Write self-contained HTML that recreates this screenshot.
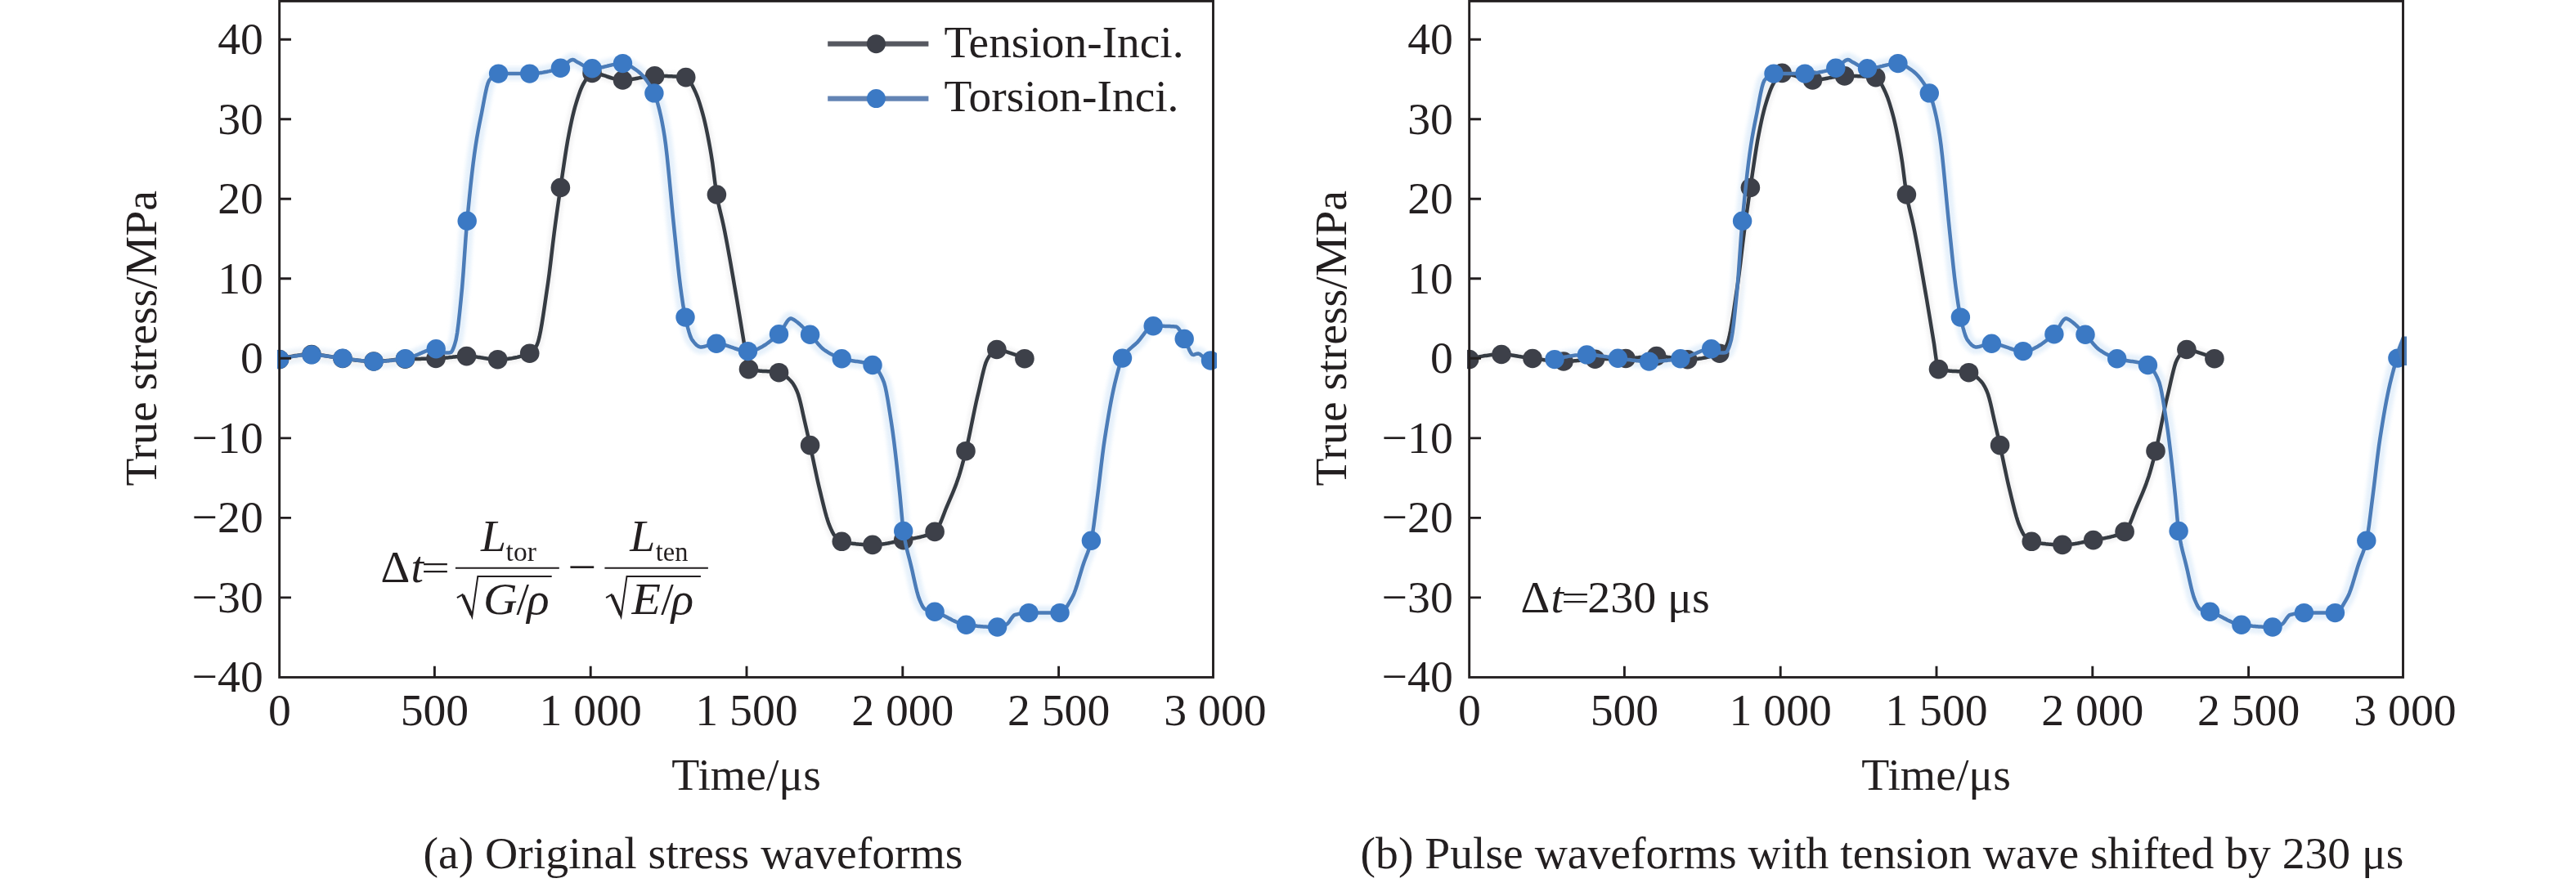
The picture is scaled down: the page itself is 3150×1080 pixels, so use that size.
<!DOCTYPE html>
<html lang="en">
<head>
<meta charset="utf-8">
<title>Stress waveforms</title>
<style>
html,body{margin:0;padding:0;background:#ffffff;}
body{width:3150px;height:1080px;overflow:hidden;}
svg{display:block;}
svg text{font-family:'Liberation Serif', 'Times New Roman', serif;fill:#231f20;}
</style>
</head>
<body>
<svg width="3150" height="1080" viewBox="0 0 3150 1080">
<defs><filter id="blur" x="-5%" y="-5%" width="110%" height="110%"><feGaussianBlur stdDeviation="2.2"/></filter><filter id="soft" x="-5%" y="-5%" width="110%" height="110%"><feGaussianBlur stdDeviation="0.75"/></filter></defs>
<rect width="3150" height="1080" fill="#ffffff"/>
<!-- (a) left chart -->
<clipPath id="clip1"><rect x="339.0" y="0" width="1149.0" height="832"/></clipPath>
<g clip-path="url(#clip1)" fill="none" stroke-linejoin="round" stroke-linecap="round">
<g filter="url(#blur)" opacity="0.9">
<path d="M341.6 439.6 L343.1 439.2 L344.6 438.8 L346.1 438.4 L347.6 438.0 L349.1 437.7 L350.6 437.4 L352.1 437.0 L353.6 436.7 L355.1 436.4 L356.6 436.2 L358.1 435.9 L359.6 435.6 L361.1 435.4 L362.6 435.2 L364.1 435.0 L365.6 434.8 L367.1 434.6 L368.6 434.5 L370.1 434.4 L371.6 434.2 L373.1 434.1 L374.6 434.1 L376.1 434.0 L377.6 433.9 L379.1 433.9 L380.6 433.9 L382.1 433.9 L383.6 433.9 L385.1 434.0 L386.6 434.1 L388.1 434.2 L389.6 434.3 L391.1 434.5 L392.6 434.6 L394.1 434.8 L395.6 435.0 L397.1 435.2 L398.6 435.4 L400.1 435.6 L401.6 435.8 L403.1 436.1 L404.6 436.3 L406.1 436.5 L407.6 436.8 L409.1 437.0 L410.6 437.2 L412.1 437.4 L413.6 437.6 L415.1 437.8 L416.6 438.0 L418.1 438.2 L419.6 438.4 L421.1 438.5 L422.6 438.7 L424.1 438.9 L425.6 439.1 L427.1 439.3 L428.6 439.5 L430.1 439.7 L431.6 439.9 L433.1 440.1 L434.6 440.3 L436.1 440.5 L437.6 440.7 L439.1 440.8 L440.6 441.0 L442.1 441.2 L443.6 441.3 L445.1 441.5 L446.6 441.6 L448.1 441.7 L449.6 441.8 L451.1 441.9 L452.6 442.0 L454.1 442.1 L455.6 442.1 L457.1 442.1 L458.6 442.1 L460.1 442.1 L461.6 442.0 L463.1 442.0 L464.6 441.9 L466.1 441.9 L467.6 441.8 L469.1 441.7 L470.6 441.6 L472.1 441.4 L473.6 441.3 L475.1 441.2 L476.6 441.0 L478.1 440.9 L479.6 440.7 L481.1 440.6 L482.6 440.4 L484.1 440.2 L485.6 440.0 L487.1 439.8 L488.6 439.6 L490.1 439.4 L491.6 439.2 L493.1 439.0 L494.6 438.8 L496.1 438.6 L497.6 438.3 L499.1 438.0 L500.6 437.6 L502.1 437.1 L503.6 436.6 L505.1 436.0 L506.6 435.4 L508.1 434.8 L509.6 434.2 L511.1 433.5 L512.6 432.9 L514.1 432.2 L515.6 431.6 L517.1 430.9 L518.6 430.3 L520.1 429.7 L521.6 429.1 L523.1 428.6 L524.6 428.2 L526.1 427.8 L527.6 427.4 L529.1 427.1 L530.6 426.9 L532.1 426.8 L533.6 426.8 L535.1 427.3 L536.6 428.1 L538.1 429.1 L539.6 430.2 L541.1 431.0 L542.6 431.5 L544.1 431.5 L545.6 431.5 L547.1 431.4 L548.6 431.4 L550.1 431.3 L551.6 430.9 L553.1 428.9 L554.6 425.4 L556.1 421.0 L557.6 415.7 L559.1 407.1 L560.6 395.6 L562.1 382.0 L563.6 367.2 L565.1 351.8 L566.6 332.7 L568.1 311.2 L569.6 289.9 L571.1 271.3 L572.6 255.5 L574.1 240.4 L575.6 226.1 L577.1 212.6 L578.6 200.1 L580.1 188.6 L581.6 178.2 L583.1 168.8 L584.6 160.3 L586.1 152.5 L587.6 145.0 L589.1 137.6 L590.6 129.6 L592.1 121.6 L593.6 113.9 L595.1 107.2 L596.6 101.9 L598.1 98.4 L599.6 96.6 L601.1 94.9 L602.6 93.5 L604.1 92.3 L605.6 91.3 L607.1 90.6 L608.6 90.2 L610.1 90.1 L611.6 90.1 L613.1 90.1 L614.6 90.1 L616.1 90.1 L617.6 90.1 L619.1 90.1 L620.6 90.1 L622.1 90.1 L623.6 90.1 L625.1 90.1 L626.6 90.1 L628.1 90.1 L629.6 90.1 L631.1 90.1 L632.6 90.1 L634.1 90.1 L635.6 90.1 L637.1 90.1 L638.6 90.1 L640.1 90.1 L641.6 90.1 L643.1 90.1 L644.6 90.1 L646.1 90.1 L647.6 90.1 L649.1 90.1 L650.6 90.0 L652.1 90.0 L653.6 89.9 L655.1 89.8 L656.6 89.6 L658.1 89.5 L659.6 89.3 L661.1 89.1 L662.6 88.9 L664.1 88.6 L665.6 88.3 L667.1 88.1 L668.6 87.8 L670.1 87.4 L671.6 87.1 L673.1 86.7 L674.6 86.4 L676.1 86.0 L677.6 85.6 L679.1 85.2 L680.6 84.7 L682.1 84.3 L683.6 83.9 L685.1 83.4 L686.6 82.8 L688.1 81.9 L689.6 80.7 L691.1 79.3 L692.6 77.9 L694.1 76.4 L695.6 75.2 L697.1 74.1 L698.6 73.4 L700.1 73.0 L701.6 73.3 L703.1 74.1 L704.6 75.1 L706.1 76.0 L707.6 76.8 L709.1 77.6 L710.6 78.5 L712.1 79.4 L713.6 80.2 L715.1 81.0 L716.6 81.8 L718.1 82.4 L719.6 83.0 L721.1 83.4 L722.6 83.7 L724.1 83.8 L725.6 83.8 L727.1 83.7 L728.6 83.6 L730.1 83.4 L731.6 83.2 L733.1 82.9 L734.6 82.6 L736.1 82.3 L737.6 82.0 L739.1 81.6 L740.6 81.2 L742.1 80.9 L743.6 80.5 L745.1 80.1 L746.6 79.8 L748.1 79.4 L749.6 79.1 L751.1 78.8 L752.6 78.5 L754.1 78.2 L755.6 78.0 L757.1 77.8 L758.6 77.7 L760.1 77.6 L761.6 77.6 L763.1 77.7 L764.6 78.0 L766.1 78.5 L767.6 79.1 L769.1 79.8 L770.6 80.6 L772.1 81.6 L773.6 82.6 L775.1 83.6 L776.6 84.7 L778.1 85.7 L779.6 86.8 L781.1 88.0 L782.6 89.3 L784.1 90.7 L785.6 92.3 L787.1 93.9 L788.6 95.7 L790.1 97.7 L791.6 99.8 L793.1 102.0 L794.6 104.3 L796.1 106.8 L797.6 109.5 L799.1 112.3 L800.6 115.4 L802.1 119.4 L803.6 124.2 L805.1 129.6 L806.6 135.4 L808.1 141.9 L809.6 149.2 L811.1 157.4 L812.6 166.5 L814.1 177.4 L815.6 190.3 L817.1 204.7 L818.6 220.1 L820.1 236.0 L821.6 251.9 L823.1 267.3 L824.6 281.9 L826.1 296.3 L827.6 311.0 L829.1 325.3 L830.6 338.8 L832.1 350.7 L833.6 361.7 L835.1 372.0 L836.6 381.1 L838.1 388.5 L839.6 395.0 L841.1 401.0 L842.6 406.4 L844.1 411.0 L845.6 414.4 L847.1 416.7 L848.6 418.6 L850.1 420.4 L851.6 421.9 L853.1 423.1 L854.6 423.9 L856.1 424.4 L857.6 424.4 L859.1 424.2 L860.6 424.0 L862.1 423.6 L863.6 423.2 L865.1 422.7 L866.6 422.3 L868.1 421.8 L869.6 421.4 L871.1 421.0 L872.6 420.6 L874.1 420.4 L875.6 420.3 L877.1 420.3 L878.6 420.4 L880.1 420.6 L881.6 420.8 L883.1 421.1 L884.6 421.5 L886.1 421.9 L887.6 422.3 L889.1 422.8 L890.6 423.3 L892.1 423.8 L893.6 424.4 L895.1 424.9 L896.6 425.4 L898.1 426.0 L899.6 426.5 L901.1 427.0 L902.6 427.5 L904.1 427.9 L905.6 428.3 L907.1 428.7 L908.6 429.0 L910.1 429.3 L911.6 429.4 L913.1 429.6 L914.6 429.6 L916.1 429.5 L917.6 429.4 L919.1 429.2 L920.6 428.8 L922.1 428.4 L923.6 428.0 L925.1 427.4 L926.6 426.8 L928.1 426.1 L929.6 425.3 L931.1 424.5 L932.6 423.7 L934.1 422.7 L935.6 421.8 L937.1 420.8 L938.6 419.7 L940.1 418.6 L941.6 417.5 L943.1 416.4 L944.6 415.2 L946.1 414.0 L947.6 412.8 L949.1 411.6 L950.6 410.4 L952.1 409.1 L953.6 407.7 L955.1 405.7 L956.6 403.3 L958.1 400.7 L959.6 398.0 L961.1 395.4 L962.6 393.1 L964.1 391.2 L965.6 390.0 L967.1 389.5 L968.6 389.9 L970.1 390.7 L971.6 391.7 L973.1 392.7 L974.6 393.8 L976.1 395.0 L977.6 396.3 L979.1 397.6 L980.6 399.0 L982.1 400.5 L983.6 402.0 L985.1 403.6 L986.6 405.1 L988.1 406.7 L989.6 408.2 L991.1 409.7 L992.6 411.3 L994.1 413.0 L995.6 414.8 L997.1 416.6 L998.6 418.4 L1000.1 420.2 L1001.6 421.9 L1003.1 423.6 L1004.6 425.1 L1006.1 426.5 L1007.6 427.7 L1009.1 428.8 L1010.6 429.7 L1012.1 430.7 L1013.6 431.6 L1015.1 432.5 L1016.6 433.3 L1018.1 434.1 L1019.6 434.9 L1021.1 435.6 L1022.6 436.2 L1024.1 436.9 L1025.6 437.4 L1027.1 438.0 L1028.6 438.5 L1030.1 438.9 L1031.6 439.3 L1033.1 439.7 L1034.6 440.0 L1036.1 440.3 L1037.6 440.6 L1039.1 440.9 L1040.6 441.1 L1042.1 441.3 L1043.6 441.5 L1045.1 441.7 L1046.6 441.9 L1048.1 442.1 L1049.6 442.3 L1051.1 442.5 L1052.6 442.7 L1054.1 443.0 L1055.6 443.2 L1057.1 443.5 L1058.6 443.9 L1060.1 444.2 L1061.6 444.6 L1063.1 445.1 L1064.6 445.6 L1066.1 446.1 L1067.6 446.8 L1069.1 447.8 L1070.6 449.1 L1072.1 450.8 L1073.6 452.9 L1075.1 455.3 L1076.6 458.0 L1078.1 461.0 L1079.6 464.3 L1081.1 468.1 L1082.6 473.6 L1084.1 480.8 L1085.6 489.2 L1087.1 498.4 L1088.6 508.0 L1090.1 517.7 L1091.6 527.8 L1093.1 539.2 L1094.6 551.5 L1096.1 564.6 L1097.6 578.3 L1099.1 592.5 L1100.6 607.0 L1102.1 623.3 L1103.6 640.0 L1105.1 652.0 L1106.6 660.7 L1108.1 668.0 L1109.6 674.4 L1111.1 680.3 L1112.6 686.0 L1114.1 692.1 L1115.6 698.6 L1117.1 705.4 L1118.6 712.2 L1120.1 718.7 L1121.6 724.7 L1123.1 729.9 L1124.6 733.9 L1126.1 737.4 L1127.6 740.6 L1129.1 743.1 L1130.6 744.8 L1132.1 745.5 L1133.6 746.1 L1135.1 746.5 L1136.6 746.8 L1138.1 747.1 L1139.6 747.4 L1141.1 747.8 L1142.6 748.1 L1144.1 748.6 L1145.6 749.2 L1147.1 749.8 L1148.6 750.4 L1150.1 751.1 L1151.6 751.8 L1153.1 752.5 L1154.6 753.2 L1156.1 754.0 L1157.6 754.8 L1159.1 755.6 L1160.6 756.4 L1162.1 757.1 L1163.6 757.9 L1165.1 758.7 L1166.6 759.4 L1168.1 760.1 L1169.6 760.8 L1171.1 761.4 L1172.6 762.0 L1174.1 762.5 L1175.6 763.0 L1177.1 763.4 L1178.6 763.8 L1180.1 764.1 L1181.6 764.3 L1183.1 764.5 L1184.6 764.7 L1186.1 764.8 L1187.6 765.0 L1189.1 765.2 L1190.6 765.3 L1192.1 765.5 L1193.6 765.6 L1195.1 765.8 L1196.6 765.9 L1198.1 766.0 L1199.6 766.2 L1201.1 766.3 L1202.6 766.4 L1204.1 766.5 L1205.6 766.6 L1207.1 766.7 L1208.6 766.7 L1210.1 766.8 L1211.6 766.9 L1213.1 766.9 L1214.6 766.9 L1216.1 767.0 L1217.6 767.0 L1219.1 767.0 L1220.6 767.0 L1222.1 766.8 L1223.6 766.5 L1225.1 766.0 L1226.6 765.5 L1228.1 764.9 L1229.6 764.2 L1231.1 763.4 L1232.6 762.2 L1234.1 760.3 L1235.6 758.1 L1237.1 755.8 L1238.6 753.8 L1240.1 752.4 L1241.6 751.8 L1243.1 751.5 L1244.6 751.1 L1246.1 750.8 L1247.6 750.5 L1249.1 750.3 L1250.6 750.1 L1252.1 749.9 L1253.6 749.8 L1255.1 749.7 L1256.6 749.6 L1258.1 749.6 L1259.6 749.6 L1261.1 749.6 L1262.6 749.6 L1264.1 749.6 L1265.6 749.6 L1267.1 749.6 L1268.6 749.6 L1270.1 749.6 L1271.6 749.6 L1273.1 749.6 L1274.6 749.6 L1276.1 749.6 L1277.6 749.6 L1279.1 749.6 L1280.6 749.6 L1282.1 749.6 L1283.6 749.6 L1285.1 749.6 L1286.6 749.6 L1288.1 749.6 L1289.6 749.6 L1291.1 749.6 L1292.6 749.6 L1294.1 749.6 L1295.6 749.6 L1297.1 749.4 L1298.6 748.8 L1300.1 747.6 L1301.6 746.1 L1303.1 744.2 L1304.6 742.0 L1306.1 739.5 L1307.6 736.9 L1309.1 734.3 L1310.6 731.6 L1312.1 728.8 L1313.6 725.3 L1315.1 721.3 L1316.6 716.8 L1318.1 711.9 L1319.6 706.9 L1321.1 701.8 L1322.6 696.8 L1324.1 691.9 L1325.6 687.5 L1327.1 683.5 L1328.6 679.6 L1330.1 675.7 L1331.6 671.4 L1333.1 666.4 L1334.6 660.4 L1336.1 652.2 L1337.6 641.9 L1339.1 630.2 L1340.6 618.1 L1342.1 606.5 L1343.6 594.5 L1345.1 581.9 L1346.6 569.2 L1348.1 556.9 L1349.6 545.5 L1351.1 535.4 L1352.6 525.8 L1354.1 516.6 L1355.6 507.7 L1357.1 499.1 L1358.6 491.0 L1360.1 483.4 L1361.6 476.2 L1363.1 469.6 L1364.6 463.5 L1366.1 457.5 L1367.6 451.9 L1369.1 446.7 L1370.6 442.3 L1372.1 438.8 L1373.6 436.3 L1375.1 434.1 L1376.6 432.1 L1378.1 430.3 L1379.6 428.7 L1381.1 427.2 L1382.6 425.9 L1384.1 424.6 L1385.6 423.3 L1387.1 422.0 L1388.6 420.7 L1390.1 419.3 L1391.6 417.8 L1393.1 416.1 L1394.6 414.2 L1396.1 412.2 L1397.6 410.2 L1399.1 408.1 L1400.6 406.2 L1402.1 404.3 L1403.6 402.6 L1405.1 401.1 L1406.6 400.0 L1408.1 399.2 L1409.6 398.7 L1411.1 398.7 L1412.6 398.7 L1414.1 398.7 L1415.6 398.7 L1417.1 398.7 L1418.6 398.8 L1420.1 398.8 L1421.6 398.8 L1423.1 398.8 L1424.6 398.9 L1426.1 398.9 L1427.6 399.0 L1429.1 399.0 L1430.6 399.1 L1432.1 399.2 L1433.6 399.2 L1435.1 399.3 L1436.6 399.4 L1438.1 399.5 L1439.6 400.2 L1441.1 401.8 L1442.6 404.1 L1444.1 406.8 L1445.6 409.7 L1447.1 412.5 L1448.6 415.1 L1450.1 418.1 L1451.6 421.6 L1453.1 425.2 L1454.6 428.6 L1456.1 431.4 L1457.6 433.4 L1459.1 434.0 L1460.6 433.7 L1462.1 433.2 L1463.6 432.7 L1465.1 432.5 L1466.6 432.9 L1468.1 433.9 L1469.6 435.2 L1471.1 436.4 L1472.6 437.3 L1474.1 438.1 L1475.6 438.9 L1477.1 439.6 L1478.6 440.2 L1480.1 440.8 L1480.5 441.0" stroke="#e3effa" stroke-width="17"/>
<path d="M341.6 439.6 L343.1 439.2 L344.6 438.7 L346.1 438.3 L347.6 437.9 L349.1 437.5 L350.6 437.2 L352.1 436.8 L353.6 436.5 L355.1 436.2 L356.6 435.9 L358.1 435.6 L359.6 435.3 L361.1 435.1 L362.6 434.9 L364.1 434.7 L365.6 434.5 L367.1 434.3 L368.6 434.1 L370.1 434.0 L371.6 433.9 L373.1 433.8 L374.6 433.7 L376.1 433.6 L377.6 433.5 L379.1 433.5 L380.6 433.5 L382.1 433.5 L383.6 433.5 L385.1 433.6 L386.6 433.7 L388.1 433.8 L389.6 434.0 L391.1 434.2 L392.6 434.3 L394.1 434.6 L395.6 434.8 L397.1 435.0 L398.6 435.2 L400.1 435.5 L401.6 435.8 L403.1 436.0 L404.6 436.3 L406.1 436.6 L407.6 436.8 L409.1 437.1 L410.6 437.3 L412.1 437.6 L413.6 437.8 L415.1 438.0 L416.6 438.2 L418.1 438.4 L419.6 438.6 L421.1 438.7 L422.6 438.9 L424.1 439.1 L425.6 439.3 L427.1 439.5 L428.6 439.6 L430.1 439.8 L431.6 440.0 L433.1 440.2 L434.6 440.4 L436.1 440.5 L437.6 440.7 L439.1 440.9 L440.6 441.0 L442.1 441.2 L443.6 441.3 L445.1 441.5 L446.6 441.6 L448.1 441.7 L449.6 441.8 L451.1 441.9 L452.6 441.9 L454.1 442.0 L455.6 442.0 L457.1 442.0 L458.6 442.0 L460.1 442.0 L461.6 441.9 L463.1 441.8 L464.6 441.8 L466.1 441.7 L467.6 441.5 L469.1 441.4 L470.6 441.3 L472.1 441.2 L473.6 441.0 L475.1 440.9 L476.6 440.7 L478.1 440.6 L479.6 440.4 L481.1 440.2 L482.6 440.1 L484.1 440.0 L485.6 439.8 L487.1 439.7 L488.6 439.6 L490.1 439.5 L491.6 439.4 L493.1 439.3 L494.6 439.2 L496.1 439.2 L497.6 439.1 L499.1 439.1 L500.6 439.1 L502.1 439.0 L503.6 439.0 L505.1 439.0 L506.6 439.0 L508.1 438.9 L509.6 438.9 L511.1 438.9 L512.6 438.9 L514.1 438.9 L515.6 438.8 L517.1 438.8 L518.6 438.8 L520.1 438.8 L521.6 438.7 L523.1 438.7 L524.6 438.7 L526.1 438.7 L527.6 438.6 L529.1 438.6 L530.6 438.6 L532.1 438.5 L533.6 438.5 L535.1 438.4 L536.6 438.3 L538.1 438.2 L539.6 438.1 L541.1 438.0 L542.6 437.9 L544.1 437.7 L545.6 437.6 L547.1 437.4 L548.6 437.3 L550.1 437.1 L551.6 436.9 L553.1 436.8 L554.6 436.6 L556.1 436.5 L557.6 436.3 L559.1 436.2 L560.6 436.0 L562.1 435.9 L563.6 435.8 L565.1 435.7 L566.6 435.7 L568.1 435.6 L569.6 435.6 L571.1 435.6 L572.6 435.6 L574.1 435.7 L575.6 435.8 L577.1 435.9 L578.6 436.1 L580.1 436.2 L581.6 436.4 L583.1 436.6 L584.6 436.9 L586.1 437.1 L587.6 437.3 L589.1 437.6 L590.6 437.8 L592.1 438.1 L593.6 438.3 L595.1 438.5 L596.6 438.7 L598.1 438.9 L599.6 439.1 L601.1 439.3 L602.6 439.4 L604.1 439.5 L605.6 439.6 L607.1 439.7 L608.6 439.7 L610.1 439.7 L611.6 439.7 L613.1 439.6 L614.6 439.5 L616.1 439.4 L617.6 439.3 L619.1 439.2 L620.6 439.0 L622.1 438.8 L623.6 438.6 L625.1 438.4 L626.6 438.1 L628.1 437.8 L629.6 437.5 L631.1 437.2 L632.6 436.9 L634.1 436.5 L635.6 436.1 L637.1 435.7 L638.6 435.3 L640.1 434.8 L641.6 434.4 L643.1 433.9 L644.6 433.3 L646.1 432.8 L647.6 432.2 L649.1 431.5 L650.6 430.3 L652.1 428.7 L653.6 426.8 L655.1 424.6 L656.6 421.9 L658.1 417.8 L659.6 411.9 L661.1 404.5 L662.6 396.0 L664.1 386.6 L665.6 376.6 L667.1 366.4 L668.6 356.1 L670.1 346.0 L671.6 335.0 L673.1 322.9 L674.6 310.3 L676.1 297.6 L677.6 285.4 L679.1 274.0 L680.6 263.0 L682.1 252.3 L683.6 241.8 L685.1 231.5 L686.6 221.3 L688.1 211.0 L689.6 200.8 L691.1 190.8 L692.6 181.3 L694.1 172.4 L695.6 164.3 L697.1 156.8 L698.6 149.6 L700.1 142.8 L701.6 136.6 L703.1 130.9 L704.6 125.9 L706.1 121.0 L707.6 116.5 L709.1 112.2 L710.6 108.4 L712.1 105.0 L713.6 102.1 L715.1 99.6 L716.6 97.1 L718.1 94.7 L719.6 92.6 L721.1 90.9 L722.6 89.8 L724.1 89.4 L725.6 89.4 L727.1 89.6 L728.6 89.7 L730.1 90.0 L731.6 90.3 L733.1 90.7 L734.6 91.1 L736.1 91.5 L737.6 92.0 L739.1 92.4 L740.6 92.9 L742.1 93.5 L743.6 94.0 L745.1 94.5 L746.6 95.0 L748.1 95.5 L749.6 95.9 L751.1 96.4 L752.6 96.8 L754.1 97.1 L755.6 97.4 L757.1 97.7 L758.6 97.9 L760.1 98.0 L761.6 98.0 L763.1 98.0 L764.6 97.9 L766.1 97.8 L767.6 97.7 L769.1 97.5 L770.6 97.3 L772.1 97.1 L773.6 96.8 L775.1 96.6 L776.6 96.3 L778.1 96.0 L779.6 95.7 L781.1 95.4 L782.6 95.1 L784.1 94.9 L785.6 94.6 L787.1 94.3 L788.6 94.0 L790.1 93.8 L791.6 93.6 L793.1 93.4 L794.6 93.2 L796.1 93.1 L797.6 93.0 L799.1 92.9 L800.6 92.9 L802.1 92.9 L803.6 92.9 L805.1 92.9 L806.6 92.9 L808.1 92.9 L809.6 93.0 L811.1 93.0 L812.6 93.0 L814.1 93.1 L815.6 93.1 L817.1 93.2 L818.6 93.2 L820.1 93.3 L821.6 93.3 L823.1 93.4 L824.6 93.5 L826.1 93.6 L827.6 93.7 L829.1 93.8 L830.6 93.9 L832.1 94.0 L833.6 94.1 L835.1 94.2 L836.6 94.4 L838.1 94.5 L839.6 94.9 L841.1 95.9 L842.6 97.7 L844.1 100.0 L845.6 102.8 L847.1 105.7 L848.6 108.8 L850.1 111.9 L851.6 115.3 L853.1 119.1 L854.6 123.4 L856.1 128.1 L857.6 133.1 L859.1 138.4 L860.6 144.0 L862.1 150.2 L863.6 156.9 L865.1 164.2 L866.6 172.0 L868.1 180.2 L869.6 188.9 L871.1 198.3 L872.6 209.7 L874.1 221.8 L875.6 233.0 L877.1 241.9 L878.6 249.4 L880.1 256.1 L881.6 262.3 L883.1 268.6 L884.6 275.2 L886.1 282.5 L887.6 290.2 L889.1 298.2 L890.6 306.4 L892.1 314.7 L893.6 323.2 L895.1 331.8 L896.6 340.5 L898.1 349.3 L899.6 358.0 L901.1 366.7 L902.6 375.6 L904.1 384.6 L905.6 393.7 L907.1 402.8 L908.6 411.8 L910.1 421.1 L911.6 432.2 L913.1 442.8 L914.6 450.0 L916.1 451.8 L917.6 452.1 L919.1 452.5 L920.6 452.8 L922.1 453.0 L923.6 453.2 L925.1 453.4 L926.6 453.5 L928.1 453.6 L929.6 453.7 L931.1 453.8 L932.6 453.9 L934.1 454.0 L935.6 454.0 L937.1 454.1 L938.6 454.2 L940.1 454.2 L941.6 454.3 L943.1 454.4 L944.6 454.5 L946.1 454.7 L947.6 454.9 L949.1 455.1 L950.6 455.3 L952.1 455.6 L953.6 456.0 L955.1 456.5 L956.6 457.3 L958.1 458.1 L959.6 459.2 L961.1 460.3 L962.6 461.6 L964.1 463.0 L965.6 464.5 L967.1 466.0 L968.6 467.7 L970.1 469.8 L971.6 472.3 L973.1 475.2 L974.6 478.5 L976.1 482.5 L977.6 487.6 L979.1 493.5 L980.6 500.0 L982.1 506.9 L983.6 513.7 L985.1 520.3 L986.6 526.8 L988.1 533.4 L989.6 540.1 L991.1 546.9 L992.6 553.8 L994.1 561.0 L995.6 568.2 L997.1 575.3 L998.6 582.4 L1000.1 589.2 L1001.6 595.7 L1003.1 601.9 L1004.6 608.2 L1006.1 614.4 L1007.6 620.4 L1009.1 626.2 L1010.6 631.6 L1012.1 636.5 L1013.6 640.9 L1015.1 644.6 L1016.6 648.1 L1018.1 651.2 L1019.6 653.8 L1021.1 655.7 L1022.6 657.4 L1024.1 659.0 L1025.6 660.3 L1027.1 661.4 L1028.6 662.1 L1030.1 662.5 L1031.6 662.8 L1033.1 663.1 L1034.6 663.4 L1036.1 663.7 L1037.6 664.0 L1039.1 664.2 L1040.6 664.5 L1042.1 664.7 L1043.6 664.9 L1045.1 665.1 L1046.6 665.3 L1048.1 665.4 L1049.6 665.6 L1051.1 665.7 L1052.6 665.8 L1054.1 666.0 L1055.6 666.1 L1057.1 666.1 L1058.6 666.2 L1060.1 666.3 L1061.6 666.3 L1063.1 666.4 L1064.6 666.4 L1066.1 666.4 L1067.6 666.4 L1069.1 666.4 L1070.6 666.3 L1072.1 666.2 L1073.6 666.1 L1075.1 666.0 L1076.6 665.8 L1078.1 665.6 L1079.6 665.4 L1081.1 665.2 L1082.6 665.0 L1084.1 664.7 L1085.6 664.5 L1087.1 664.2 L1088.6 663.9 L1090.1 663.6 L1091.6 663.3 L1093.1 663.0 L1094.6 662.7 L1096.1 662.4 L1097.6 662.1 L1099.1 661.7 L1100.6 661.4 L1102.1 661.1 L1103.6 660.8 L1105.1 660.5 L1106.6 660.2 L1108.1 660.0 L1109.6 659.7 L1111.1 659.5 L1112.6 659.2 L1114.1 658.9 L1115.6 658.7 L1117.1 658.4 L1118.6 658.2 L1120.1 657.9 L1121.6 657.6 L1123.1 657.3 L1124.6 657.0 L1126.1 656.6 L1127.6 656.2 L1129.1 655.8 L1130.6 655.4 L1132.1 655.0 L1133.6 654.5 L1135.1 653.9 L1136.6 653.4 L1138.1 652.8 L1139.6 652.1 L1141.1 651.4 L1142.6 650.7 L1144.1 649.7 L1145.6 648.0 L1147.1 645.6 L1148.6 642.6 L1150.1 639.2 L1151.6 635.5 L1153.1 631.7 L1154.6 627.7 L1156.1 623.8 L1157.6 620.1 L1159.1 616.6 L1160.6 613.2 L1162.1 609.7 L1163.6 606.2 L1165.1 602.6 L1166.6 598.9 L1168.1 595.1 L1169.6 591.1 L1171.1 586.8 L1172.6 582.4 L1174.1 577.5 L1175.6 572.4 L1177.1 566.9 L1178.6 561.2 L1180.1 555.3 L1181.6 549.2 L1183.1 542.8 L1184.6 535.9 L1186.1 528.7 L1187.6 521.4 L1189.1 514.0 L1190.6 506.6 L1192.1 499.4 L1193.6 492.4 L1195.1 485.8 L1196.6 479.5 L1198.1 473.0 L1199.6 466.3 L1201.1 459.8 L1202.6 453.6 L1204.1 448.0 L1205.6 443.3 L1207.1 439.8 L1208.6 437.3 L1210.1 435.1 L1211.6 433.0 L1213.1 431.1 L1214.6 429.6 L1216.1 428.4 L1217.6 427.7 L1219.1 427.5 L1220.6 427.6 L1222.1 427.8 L1223.6 428.0 L1225.1 428.4 L1226.6 428.8 L1228.1 429.3 L1229.6 429.8 L1231.1 430.3 L1232.6 430.8 L1234.1 431.4 L1235.6 431.9 L1237.1 432.4 L1238.6 432.9 L1240.1 433.4 L1241.6 433.9 L1243.1 434.5 L1244.6 435.1 L1246.1 435.7 L1247.6 436.3 L1249.1 437.0 L1250.6 437.7 L1252.1 438.3 L1252.9 438.7" stroke="#f1f1f2" stroke-width="12"/>
</g>
<g filter="url(#soft)">
<path d="M341.6 439.6 L343.1 439.2 L344.6 438.7 L346.1 438.3 L347.6 437.9 L349.1 437.5 L350.6 437.2 L352.1 436.8 L353.6 436.5 L355.1 436.2 L356.6 435.9 L358.1 435.6 L359.6 435.3 L361.1 435.1 L362.6 434.9 L364.1 434.7 L365.6 434.5 L367.1 434.3 L368.6 434.1 L370.1 434.0 L371.6 433.9 L373.1 433.8 L374.6 433.7 L376.1 433.6 L377.6 433.5 L379.1 433.5 L380.6 433.5 L382.1 433.5 L383.6 433.5 L385.1 433.6 L386.6 433.7 L388.1 433.8 L389.6 434.0 L391.1 434.2 L392.6 434.3 L394.1 434.6 L395.6 434.8 L397.1 435.0 L398.6 435.2 L400.1 435.5 L401.6 435.8 L403.1 436.0 L404.6 436.3 L406.1 436.6 L407.6 436.8 L409.1 437.1 L410.6 437.3 L412.1 437.6 L413.6 437.8 L415.1 438.0 L416.6 438.2 L418.1 438.4 L419.6 438.6 L421.1 438.7 L422.6 438.9 L424.1 439.1 L425.6 439.3 L427.1 439.5 L428.6 439.6 L430.1 439.8 L431.6 440.0 L433.1 440.2 L434.6 440.4 L436.1 440.5 L437.6 440.7 L439.1 440.9 L440.6 441.0 L442.1 441.2 L443.6 441.3 L445.1 441.5 L446.6 441.6 L448.1 441.7 L449.6 441.8 L451.1 441.9 L452.6 441.9 L454.1 442.0 L455.6 442.0 L457.1 442.0 L458.6 442.0 L460.1 442.0 L461.6 441.9 L463.1 441.8 L464.6 441.8 L466.1 441.7 L467.6 441.5 L469.1 441.4 L470.6 441.3 L472.1 441.2 L473.6 441.0 L475.1 440.9 L476.6 440.7 L478.1 440.6 L479.6 440.4 L481.1 440.2 L482.6 440.1 L484.1 440.0 L485.6 439.8 L487.1 439.7 L488.6 439.6 L490.1 439.5 L491.6 439.4 L493.1 439.3 L494.6 439.2 L496.1 439.2 L497.6 439.1 L499.1 439.1 L500.6 439.1 L502.1 439.0 L503.6 439.0 L505.1 439.0 L506.6 439.0 L508.1 438.9 L509.6 438.9 L511.1 438.9 L512.6 438.9 L514.1 438.9 L515.6 438.8 L517.1 438.8 L518.6 438.8 L520.1 438.8 L521.6 438.7 L523.1 438.7 L524.6 438.7 L526.1 438.7 L527.6 438.6 L529.1 438.6 L530.6 438.6 L532.1 438.5 L533.6 438.5 L535.1 438.4 L536.6 438.3 L538.1 438.2 L539.6 438.1 L541.1 438.0 L542.6 437.9 L544.1 437.7 L545.6 437.6 L547.1 437.4 L548.6 437.3 L550.1 437.1 L551.6 436.9 L553.1 436.8 L554.6 436.6 L556.1 436.5 L557.6 436.3 L559.1 436.2 L560.6 436.0 L562.1 435.9 L563.6 435.8 L565.1 435.7 L566.6 435.7 L568.1 435.6 L569.6 435.6 L571.1 435.6 L572.6 435.6 L574.1 435.7 L575.6 435.8 L577.1 435.9 L578.6 436.1 L580.1 436.2 L581.6 436.4 L583.1 436.6 L584.6 436.9 L586.1 437.1 L587.6 437.3 L589.1 437.6 L590.6 437.8 L592.1 438.1 L593.6 438.3 L595.1 438.5 L596.6 438.7 L598.1 438.9 L599.6 439.1 L601.1 439.3 L602.6 439.4 L604.1 439.5 L605.6 439.6 L607.1 439.7 L608.6 439.7 L610.1 439.7 L611.6 439.7 L613.1 439.6 L614.6 439.5 L616.1 439.4 L617.6 439.3 L619.1 439.2 L620.6 439.0 L622.1 438.8 L623.6 438.6 L625.1 438.4 L626.6 438.1 L628.1 437.8 L629.6 437.5 L631.1 437.2 L632.6 436.9 L634.1 436.5 L635.6 436.1 L637.1 435.7 L638.6 435.3 L640.1 434.8 L641.6 434.4 L643.1 433.9 L644.6 433.3 L646.1 432.8 L647.6 432.2 L649.1 431.5 L650.6 430.3 L652.1 428.7 L653.6 426.8 L655.1 424.6 L656.6 421.9 L658.1 417.8 L659.6 411.9 L661.1 404.5 L662.6 396.0 L664.1 386.6 L665.6 376.6 L667.1 366.4 L668.6 356.1 L670.1 346.0 L671.6 335.0 L673.1 322.9 L674.6 310.3 L676.1 297.6 L677.6 285.4 L679.1 274.0 L680.6 263.0 L682.1 252.3 L683.6 241.8 L685.1 231.5 L686.6 221.3 L688.1 211.0 L689.6 200.8 L691.1 190.8 L692.6 181.3 L694.1 172.4 L695.6 164.3 L697.1 156.8 L698.6 149.6 L700.1 142.8 L701.6 136.6 L703.1 130.9 L704.6 125.9 L706.1 121.0 L707.6 116.5 L709.1 112.2 L710.6 108.4 L712.1 105.0 L713.6 102.1 L715.1 99.6 L716.6 97.1 L718.1 94.7 L719.6 92.6 L721.1 90.9 L722.6 89.8 L724.1 89.4 L725.6 89.4 L727.1 89.6 L728.6 89.7 L730.1 90.0 L731.6 90.3 L733.1 90.7 L734.6 91.1 L736.1 91.5 L737.6 92.0 L739.1 92.4 L740.6 92.9 L742.1 93.5 L743.6 94.0 L745.1 94.5 L746.6 95.0 L748.1 95.5 L749.6 95.9 L751.1 96.4 L752.6 96.8 L754.1 97.1 L755.6 97.4 L757.1 97.7 L758.6 97.9 L760.1 98.0 L761.6 98.0 L763.1 98.0 L764.6 97.9 L766.1 97.8 L767.6 97.7 L769.1 97.5 L770.6 97.3 L772.1 97.1 L773.6 96.8 L775.1 96.6 L776.6 96.3 L778.1 96.0 L779.6 95.7 L781.1 95.4 L782.6 95.1 L784.1 94.9 L785.6 94.6 L787.1 94.3 L788.6 94.0 L790.1 93.8 L791.6 93.6 L793.1 93.4 L794.6 93.2 L796.1 93.1 L797.6 93.0 L799.1 92.9 L800.6 92.9 L802.1 92.9 L803.6 92.9 L805.1 92.9 L806.6 92.9 L808.1 92.9 L809.6 93.0 L811.1 93.0 L812.6 93.0 L814.1 93.1 L815.6 93.1 L817.1 93.2 L818.6 93.2 L820.1 93.3 L821.6 93.3 L823.1 93.4 L824.6 93.5 L826.1 93.6 L827.6 93.7 L829.1 93.8 L830.6 93.9 L832.1 94.0 L833.6 94.1 L835.1 94.2 L836.6 94.4 L838.1 94.5 L839.6 94.9 L841.1 95.9 L842.6 97.7 L844.1 100.0 L845.6 102.8 L847.1 105.7 L848.6 108.8 L850.1 111.9 L851.6 115.3 L853.1 119.1 L854.6 123.4 L856.1 128.1 L857.6 133.1 L859.1 138.4 L860.6 144.0 L862.1 150.2 L863.6 156.9 L865.1 164.2 L866.6 172.0 L868.1 180.2 L869.6 188.9 L871.1 198.3 L872.6 209.7 L874.1 221.8 L875.6 233.0 L877.1 241.9 L878.6 249.4 L880.1 256.1 L881.6 262.3 L883.1 268.6 L884.6 275.2 L886.1 282.5 L887.6 290.2 L889.1 298.2 L890.6 306.4 L892.1 314.7 L893.6 323.2 L895.1 331.8 L896.6 340.5 L898.1 349.3 L899.6 358.0 L901.1 366.7 L902.6 375.6 L904.1 384.6 L905.6 393.7 L907.1 402.8 L908.6 411.8 L910.1 421.1 L911.6 432.2 L913.1 442.8 L914.6 450.0 L916.1 451.8 L917.6 452.1 L919.1 452.5 L920.6 452.8 L922.1 453.0 L923.6 453.2 L925.1 453.4 L926.6 453.5 L928.1 453.6 L929.6 453.7 L931.1 453.8 L932.6 453.9 L934.1 454.0 L935.6 454.0 L937.1 454.1 L938.6 454.2 L940.1 454.2 L941.6 454.3 L943.1 454.4 L944.6 454.5 L946.1 454.7 L947.6 454.9 L949.1 455.1 L950.6 455.3 L952.1 455.6 L953.6 456.0 L955.1 456.5 L956.6 457.3 L958.1 458.1 L959.6 459.2 L961.1 460.3 L962.6 461.6 L964.1 463.0 L965.6 464.5 L967.1 466.0 L968.6 467.7 L970.1 469.8 L971.6 472.3 L973.1 475.2 L974.6 478.5 L976.1 482.5 L977.6 487.6 L979.1 493.5 L980.6 500.0 L982.1 506.9 L983.6 513.7 L985.1 520.3 L986.6 526.8 L988.1 533.4 L989.6 540.1 L991.1 546.9 L992.6 553.8 L994.1 561.0 L995.6 568.2 L997.1 575.3 L998.6 582.4 L1000.1 589.2 L1001.6 595.7 L1003.1 601.9 L1004.6 608.2 L1006.1 614.4 L1007.6 620.4 L1009.1 626.2 L1010.6 631.6 L1012.1 636.5 L1013.6 640.9 L1015.1 644.6 L1016.6 648.1 L1018.1 651.2 L1019.6 653.8 L1021.1 655.7 L1022.6 657.4 L1024.1 659.0 L1025.6 660.3 L1027.1 661.4 L1028.6 662.1 L1030.1 662.5 L1031.6 662.8 L1033.1 663.1 L1034.6 663.4 L1036.1 663.7 L1037.6 664.0 L1039.1 664.2 L1040.6 664.5 L1042.1 664.7 L1043.6 664.9 L1045.1 665.1 L1046.6 665.3 L1048.1 665.4 L1049.6 665.6 L1051.1 665.7 L1052.6 665.8 L1054.1 666.0 L1055.6 666.1 L1057.1 666.1 L1058.6 666.2 L1060.1 666.3 L1061.6 666.3 L1063.1 666.4 L1064.6 666.4 L1066.1 666.4 L1067.6 666.4 L1069.1 666.4 L1070.6 666.3 L1072.1 666.2 L1073.6 666.1 L1075.1 666.0 L1076.6 665.8 L1078.1 665.6 L1079.6 665.4 L1081.1 665.2 L1082.6 665.0 L1084.1 664.7 L1085.6 664.5 L1087.1 664.2 L1088.6 663.9 L1090.1 663.6 L1091.6 663.3 L1093.1 663.0 L1094.6 662.7 L1096.1 662.4 L1097.6 662.1 L1099.1 661.7 L1100.6 661.4 L1102.1 661.1 L1103.6 660.8 L1105.1 660.5 L1106.6 660.2 L1108.1 660.0 L1109.6 659.7 L1111.1 659.5 L1112.6 659.2 L1114.1 658.9 L1115.6 658.7 L1117.1 658.4 L1118.6 658.2 L1120.1 657.9 L1121.6 657.6 L1123.1 657.3 L1124.6 657.0 L1126.1 656.6 L1127.6 656.2 L1129.1 655.8 L1130.6 655.4 L1132.1 655.0 L1133.6 654.5 L1135.1 653.9 L1136.6 653.4 L1138.1 652.8 L1139.6 652.1 L1141.1 651.4 L1142.6 650.7 L1144.1 649.7 L1145.6 648.0 L1147.1 645.6 L1148.6 642.6 L1150.1 639.2 L1151.6 635.5 L1153.1 631.7 L1154.6 627.7 L1156.1 623.8 L1157.6 620.1 L1159.1 616.6 L1160.6 613.2 L1162.1 609.7 L1163.6 606.2 L1165.1 602.6 L1166.6 598.9 L1168.1 595.1 L1169.6 591.1 L1171.1 586.8 L1172.6 582.4 L1174.1 577.5 L1175.6 572.4 L1177.1 566.9 L1178.6 561.2 L1180.1 555.3 L1181.6 549.2 L1183.1 542.8 L1184.6 535.9 L1186.1 528.7 L1187.6 521.4 L1189.1 514.0 L1190.6 506.6 L1192.1 499.4 L1193.6 492.4 L1195.1 485.8 L1196.6 479.5 L1198.1 473.0 L1199.6 466.3 L1201.1 459.8 L1202.6 453.6 L1204.1 448.0 L1205.6 443.3 L1207.1 439.8 L1208.6 437.3 L1210.1 435.1 L1211.6 433.0 L1213.1 431.1 L1214.6 429.6 L1216.1 428.4 L1217.6 427.7 L1219.1 427.5 L1220.6 427.6 L1222.1 427.8 L1223.6 428.0 L1225.1 428.4 L1226.6 428.8 L1228.1 429.3 L1229.6 429.8 L1231.1 430.3 L1232.6 430.8 L1234.1 431.4 L1235.6 431.9 L1237.1 432.4 L1238.6 432.9 L1240.1 433.4 L1241.6 433.9 L1243.1 434.5 L1244.6 435.1 L1246.1 435.7 L1247.6 436.3 L1249.1 437.0 L1250.6 437.7 L1252.1 438.3 L1252.9 438.7" stroke="#363a42" stroke-width="4.5"/>
<circle cx="341.6" cy="439.6" r="11.8" fill="#3d4048"/><circle cx="381.0" cy="433.5" r="11.8" fill="#3d4048"/><circle cx="419.0" cy="438.5" r="11.8" fill="#3d4048"/><circle cx="457.0" cy="442.0" r="11.8" fill="#3d4048"/><circle cx="495.5" cy="439.2" r="11.8" fill="#3d4048"/><circle cx="533.0" cy="438.5" r="11.8" fill="#3d4048"/><circle cx="570.6" cy="435.6" r="11.8" fill="#3d4048"/><circle cx="608.6" cy="439.7" r="11.8" fill="#3d4048"/><circle cx="647.7" cy="432.2" r="11.8" fill="#3d4048"/><circle cx="685.4" cy="229.5" r="11.8" fill="#3d4048"/><circle cx="724.1" cy="89.4" r="11.8" fill="#3d4048"/><circle cx="761.5" cy="98.0" r="11.8" fill="#3d4048"/><circle cx="800.6" cy="92.9" r="11.8" fill="#3d4048"/><circle cx="838.7" cy="94.6" r="11.8" fill="#3d4048"/><circle cx="876.4" cy="238.0" r="11.8" fill="#3d4048"/><circle cx="915.5" cy="451.6" r="11.8" fill="#3d4048"/><circle cx="952.5" cy="455.7" r="11.8" fill="#3d4048"/><circle cx="990.6" cy="544.6" r="11.8" fill="#3d4048"/><circle cx="1029.3" cy="662.3" r="11.8" fill="#3d4048"/><circle cx="1067.0" cy="666.4" r="11.8" fill="#3d4048"/><circle cx="1104.7" cy="660.6" r="11.8" fill="#3d4048"/><circle cx="1143.1" cy="650.4" r="11.8" fill="#3d4048"/><circle cx="1181.0" cy="551.7" r="11.8" fill="#3d4048"/><circle cx="1218.9" cy="427.5" r="11.8" fill="#3d4048"/><circle cx="1252.9" cy="438.7" r="11.8" fill="#3d4048"/>
<path d="M341.6 439.6 L343.1 439.2 L344.6 438.8 L346.1 438.4 L347.6 438.0 L349.1 437.7 L350.6 437.4 L352.1 437.0 L353.6 436.7 L355.1 436.4 L356.6 436.2 L358.1 435.9 L359.6 435.6 L361.1 435.4 L362.6 435.2 L364.1 435.0 L365.6 434.8 L367.1 434.6 L368.6 434.5 L370.1 434.4 L371.6 434.2 L373.1 434.1 L374.6 434.1 L376.1 434.0 L377.6 433.9 L379.1 433.9 L380.6 433.9 L382.1 433.9 L383.6 433.9 L385.1 434.0 L386.6 434.1 L388.1 434.2 L389.6 434.3 L391.1 434.5 L392.6 434.6 L394.1 434.8 L395.6 435.0 L397.1 435.2 L398.6 435.4 L400.1 435.6 L401.6 435.8 L403.1 436.1 L404.6 436.3 L406.1 436.5 L407.6 436.8 L409.1 437.0 L410.6 437.2 L412.1 437.4 L413.6 437.6 L415.1 437.8 L416.6 438.0 L418.1 438.2 L419.6 438.4 L421.1 438.5 L422.6 438.7 L424.1 438.9 L425.6 439.1 L427.1 439.3 L428.6 439.5 L430.1 439.7 L431.6 439.9 L433.1 440.1 L434.6 440.3 L436.1 440.5 L437.6 440.7 L439.1 440.8 L440.6 441.0 L442.1 441.2 L443.6 441.3 L445.1 441.5 L446.6 441.6 L448.1 441.7 L449.6 441.8 L451.1 441.9 L452.6 442.0 L454.1 442.1 L455.6 442.1 L457.1 442.1 L458.6 442.1 L460.1 442.1 L461.6 442.0 L463.1 442.0 L464.6 441.9 L466.1 441.9 L467.6 441.8 L469.1 441.7 L470.6 441.6 L472.1 441.4 L473.6 441.3 L475.1 441.2 L476.6 441.0 L478.1 440.9 L479.6 440.7 L481.1 440.6 L482.6 440.4 L484.1 440.2 L485.6 440.0 L487.1 439.8 L488.6 439.6 L490.1 439.4 L491.6 439.2 L493.1 439.0 L494.6 438.8 L496.1 438.6 L497.6 438.3 L499.1 438.0 L500.6 437.6 L502.1 437.1 L503.6 436.6 L505.1 436.0 L506.6 435.4 L508.1 434.8 L509.6 434.2 L511.1 433.5 L512.6 432.9 L514.1 432.2 L515.6 431.6 L517.1 430.9 L518.6 430.3 L520.1 429.7 L521.6 429.1 L523.1 428.6 L524.6 428.2 L526.1 427.8 L527.6 427.4 L529.1 427.1 L530.6 426.9 L532.1 426.8 L533.6 426.8 L535.1 427.3 L536.6 428.1 L538.1 429.1 L539.6 430.2 L541.1 431.0 L542.6 431.5 L544.1 431.5 L545.6 431.5 L547.1 431.4 L548.6 431.4 L550.1 431.3 L551.6 430.9 L553.1 428.9 L554.6 425.4 L556.1 421.0 L557.6 415.7 L559.1 407.1 L560.6 395.6 L562.1 382.0 L563.6 367.2 L565.1 351.8 L566.6 332.7 L568.1 311.2 L569.6 289.9 L571.1 271.3 L572.6 255.5 L574.1 240.4 L575.6 226.1 L577.1 212.6 L578.6 200.1 L580.1 188.6 L581.6 178.2 L583.1 168.8 L584.6 160.3 L586.1 152.5 L587.6 145.0 L589.1 137.6 L590.6 129.6 L592.1 121.6 L593.6 113.9 L595.1 107.2 L596.6 101.9 L598.1 98.4 L599.6 96.6 L601.1 94.9 L602.6 93.5 L604.1 92.3 L605.6 91.3 L607.1 90.6 L608.6 90.2 L610.1 90.1 L611.6 90.1 L613.1 90.1 L614.6 90.1 L616.1 90.1 L617.6 90.1 L619.1 90.1 L620.6 90.1 L622.1 90.1 L623.6 90.1 L625.1 90.1 L626.6 90.1 L628.1 90.1 L629.6 90.1 L631.1 90.1 L632.6 90.1 L634.1 90.1 L635.6 90.1 L637.1 90.1 L638.6 90.1 L640.1 90.1 L641.6 90.1 L643.1 90.1 L644.6 90.1 L646.1 90.1 L647.6 90.1 L649.1 90.1 L650.6 90.0 L652.1 90.0 L653.6 89.9 L655.1 89.8 L656.6 89.6 L658.1 89.5 L659.6 89.3 L661.1 89.1 L662.6 88.9 L664.1 88.6 L665.6 88.3 L667.1 88.1 L668.6 87.8 L670.1 87.4 L671.6 87.1 L673.1 86.7 L674.6 86.4 L676.1 86.0 L677.6 85.6 L679.1 85.2 L680.6 84.7 L682.1 84.3 L683.6 83.9 L685.1 83.4 L686.6 82.8 L688.1 81.9 L689.6 80.7 L691.1 79.3 L692.6 77.9 L694.1 76.4 L695.6 75.2 L697.1 74.1 L698.6 73.4 L700.1 73.0 L701.6 73.3 L703.1 74.1 L704.6 75.1 L706.1 76.0 L707.6 76.8 L709.1 77.6 L710.6 78.5 L712.1 79.4 L713.6 80.2 L715.1 81.0 L716.6 81.8 L718.1 82.4 L719.6 83.0 L721.1 83.4 L722.6 83.7 L724.1 83.8 L725.6 83.8 L727.1 83.7 L728.6 83.6 L730.1 83.4 L731.6 83.2 L733.1 82.9 L734.6 82.6 L736.1 82.3 L737.6 82.0 L739.1 81.6 L740.6 81.2 L742.1 80.9 L743.6 80.5 L745.1 80.1 L746.6 79.8 L748.1 79.4 L749.6 79.1 L751.1 78.8 L752.6 78.5 L754.1 78.2 L755.6 78.0 L757.1 77.8 L758.6 77.7 L760.1 77.6 L761.6 77.6 L763.1 77.7 L764.6 78.0 L766.1 78.5 L767.6 79.1 L769.1 79.8 L770.6 80.6 L772.1 81.6 L773.6 82.6 L775.1 83.6 L776.6 84.7 L778.1 85.7 L779.6 86.8 L781.1 88.0 L782.6 89.3 L784.1 90.7 L785.6 92.3 L787.1 93.9 L788.6 95.7 L790.1 97.7 L791.6 99.8 L793.1 102.0 L794.6 104.3 L796.1 106.8 L797.6 109.5 L799.1 112.3 L800.6 115.4 L802.1 119.4 L803.6 124.2 L805.1 129.6 L806.6 135.4 L808.1 141.9 L809.6 149.2 L811.1 157.4 L812.6 166.5 L814.1 177.4 L815.6 190.3 L817.1 204.7 L818.6 220.1 L820.1 236.0 L821.6 251.9 L823.1 267.3 L824.6 281.9 L826.1 296.3 L827.6 311.0 L829.1 325.3 L830.6 338.8 L832.1 350.7 L833.6 361.7 L835.1 372.0 L836.6 381.1 L838.1 388.5 L839.6 395.0 L841.1 401.0 L842.6 406.4 L844.1 411.0 L845.6 414.4 L847.1 416.7 L848.6 418.6 L850.1 420.4 L851.6 421.9 L853.1 423.1 L854.6 423.9 L856.1 424.4 L857.6 424.4 L859.1 424.2 L860.6 424.0 L862.1 423.6 L863.6 423.2 L865.1 422.7 L866.6 422.3 L868.1 421.8 L869.6 421.4 L871.1 421.0 L872.6 420.6 L874.1 420.4 L875.6 420.3 L877.1 420.3 L878.6 420.4 L880.1 420.6 L881.6 420.8 L883.1 421.1 L884.6 421.5 L886.1 421.9 L887.6 422.3 L889.1 422.8 L890.6 423.3 L892.1 423.8 L893.6 424.4 L895.1 424.9 L896.6 425.4 L898.1 426.0 L899.6 426.5 L901.1 427.0 L902.6 427.5 L904.1 427.9 L905.6 428.3 L907.1 428.7 L908.6 429.0 L910.1 429.3 L911.6 429.4 L913.1 429.6 L914.6 429.6 L916.1 429.5 L917.6 429.4 L919.1 429.2 L920.6 428.8 L922.1 428.4 L923.6 428.0 L925.1 427.4 L926.6 426.8 L928.1 426.1 L929.6 425.3 L931.1 424.5 L932.6 423.7 L934.1 422.7 L935.6 421.8 L937.1 420.8 L938.6 419.7 L940.1 418.6 L941.6 417.5 L943.1 416.4 L944.6 415.2 L946.1 414.0 L947.6 412.8 L949.1 411.6 L950.6 410.4 L952.1 409.1 L953.6 407.7 L955.1 405.7 L956.6 403.3 L958.1 400.7 L959.6 398.0 L961.1 395.4 L962.6 393.1 L964.1 391.2 L965.6 390.0 L967.1 389.5 L968.6 389.9 L970.1 390.7 L971.6 391.7 L973.1 392.7 L974.6 393.8 L976.1 395.0 L977.6 396.3 L979.1 397.6 L980.6 399.0 L982.1 400.5 L983.6 402.0 L985.1 403.6 L986.6 405.1 L988.1 406.7 L989.6 408.2 L991.1 409.7 L992.6 411.3 L994.1 413.0 L995.6 414.8 L997.1 416.6 L998.6 418.4 L1000.1 420.2 L1001.6 421.9 L1003.1 423.6 L1004.6 425.1 L1006.1 426.5 L1007.6 427.7 L1009.1 428.8 L1010.6 429.7 L1012.1 430.7 L1013.6 431.6 L1015.1 432.5 L1016.6 433.3 L1018.1 434.1 L1019.6 434.9 L1021.1 435.6 L1022.6 436.2 L1024.1 436.9 L1025.6 437.4 L1027.1 438.0 L1028.6 438.5 L1030.1 438.9 L1031.6 439.3 L1033.1 439.7 L1034.6 440.0 L1036.1 440.3 L1037.6 440.6 L1039.1 440.9 L1040.6 441.1 L1042.1 441.3 L1043.6 441.5 L1045.1 441.7 L1046.6 441.9 L1048.1 442.1 L1049.6 442.3 L1051.1 442.5 L1052.6 442.7 L1054.1 443.0 L1055.6 443.2 L1057.1 443.5 L1058.6 443.9 L1060.1 444.2 L1061.6 444.6 L1063.1 445.1 L1064.6 445.6 L1066.1 446.1 L1067.6 446.8 L1069.1 447.8 L1070.6 449.1 L1072.1 450.8 L1073.6 452.9 L1075.1 455.3 L1076.6 458.0 L1078.1 461.0 L1079.6 464.3 L1081.1 468.1 L1082.6 473.6 L1084.1 480.8 L1085.6 489.2 L1087.1 498.4 L1088.6 508.0 L1090.1 517.7 L1091.6 527.8 L1093.1 539.2 L1094.6 551.5 L1096.1 564.6 L1097.6 578.3 L1099.1 592.5 L1100.6 607.0 L1102.1 623.3 L1103.6 640.0 L1105.1 652.0 L1106.6 660.7 L1108.1 668.0 L1109.6 674.4 L1111.1 680.3 L1112.6 686.0 L1114.1 692.1 L1115.6 698.6 L1117.1 705.4 L1118.6 712.2 L1120.1 718.7 L1121.6 724.7 L1123.1 729.9 L1124.6 733.9 L1126.1 737.4 L1127.6 740.6 L1129.1 743.1 L1130.6 744.8 L1132.1 745.5 L1133.6 746.1 L1135.1 746.5 L1136.6 746.8 L1138.1 747.1 L1139.6 747.4 L1141.1 747.8 L1142.6 748.1 L1144.1 748.6 L1145.6 749.2 L1147.1 749.8 L1148.6 750.4 L1150.1 751.1 L1151.6 751.8 L1153.1 752.5 L1154.6 753.2 L1156.1 754.0 L1157.6 754.8 L1159.1 755.6 L1160.6 756.4 L1162.1 757.1 L1163.6 757.9 L1165.1 758.7 L1166.6 759.4 L1168.1 760.1 L1169.6 760.8 L1171.1 761.4 L1172.6 762.0 L1174.1 762.5 L1175.6 763.0 L1177.1 763.4 L1178.6 763.8 L1180.1 764.1 L1181.6 764.3 L1183.1 764.5 L1184.6 764.7 L1186.1 764.8 L1187.6 765.0 L1189.1 765.2 L1190.6 765.3 L1192.1 765.5 L1193.6 765.6 L1195.1 765.8 L1196.6 765.9 L1198.1 766.0 L1199.6 766.2 L1201.1 766.3 L1202.6 766.4 L1204.1 766.5 L1205.6 766.6 L1207.1 766.7 L1208.6 766.7 L1210.1 766.8 L1211.6 766.9 L1213.1 766.9 L1214.6 766.9 L1216.1 767.0 L1217.6 767.0 L1219.1 767.0 L1220.6 767.0 L1222.1 766.8 L1223.6 766.5 L1225.1 766.0 L1226.6 765.5 L1228.1 764.9 L1229.6 764.2 L1231.1 763.4 L1232.6 762.2 L1234.1 760.3 L1235.6 758.1 L1237.1 755.8 L1238.6 753.8 L1240.1 752.4 L1241.6 751.8 L1243.1 751.5 L1244.6 751.1 L1246.1 750.8 L1247.6 750.5 L1249.1 750.3 L1250.6 750.1 L1252.1 749.9 L1253.6 749.8 L1255.1 749.7 L1256.6 749.6 L1258.1 749.6 L1259.6 749.6 L1261.1 749.6 L1262.6 749.6 L1264.1 749.6 L1265.6 749.6 L1267.1 749.6 L1268.6 749.6 L1270.1 749.6 L1271.6 749.6 L1273.1 749.6 L1274.6 749.6 L1276.1 749.6 L1277.6 749.6 L1279.1 749.6 L1280.6 749.6 L1282.1 749.6 L1283.6 749.6 L1285.1 749.6 L1286.6 749.6 L1288.1 749.6 L1289.6 749.6 L1291.1 749.6 L1292.6 749.6 L1294.1 749.6 L1295.6 749.6 L1297.1 749.4 L1298.6 748.8 L1300.1 747.6 L1301.6 746.1 L1303.1 744.2 L1304.6 742.0 L1306.1 739.5 L1307.6 736.9 L1309.1 734.3 L1310.6 731.6 L1312.1 728.8 L1313.6 725.3 L1315.1 721.3 L1316.6 716.8 L1318.1 711.9 L1319.6 706.9 L1321.1 701.8 L1322.6 696.8 L1324.1 691.9 L1325.6 687.5 L1327.1 683.5 L1328.6 679.6 L1330.1 675.7 L1331.6 671.4 L1333.1 666.4 L1334.6 660.4 L1336.1 652.2 L1337.6 641.9 L1339.1 630.2 L1340.6 618.1 L1342.1 606.5 L1343.6 594.5 L1345.1 581.9 L1346.6 569.2 L1348.1 556.9 L1349.6 545.5 L1351.1 535.4 L1352.6 525.8 L1354.1 516.6 L1355.6 507.7 L1357.1 499.1 L1358.6 491.0 L1360.1 483.4 L1361.6 476.2 L1363.1 469.6 L1364.6 463.5 L1366.1 457.5 L1367.6 451.9 L1369.1 446.7 L1370.6 442.3 L1372.1 438.8 L1373.6 436.3 L1375.1 434.1 L1376.6 432.1 L1378.1 430.3 L1379.6 428.7 L1381.1 427.2 L1382.6 425.9 L1384.1 424.6 L1385.6 423.3 L1387.1 422.0 L1388.6 420.7 L1390.1 419.3 L1391.6 417.8 L1393.1 416.1 L1394.6 414.2 L1396.1 412.2 L1397.6 410.2 L1399.1 408.1 L1400.6 406.2 L1402.1 404.3 L1403.6 402.6 L1405.1 401.1 L1406.6 400.0 L1408.1 399.2 L1409.6 398.7 L1411.1 398.7 L1412.6 398.7 L1414.1 398.7 L1415.6 398.7 L1417.1 398.7 L1418.6 398.8 L1420.1 398.8 L1421.6 398.8 L1423.1 398.8 L1424.6 398.9 L1426.1 398.9 L1427.6 399.0 L1429.1 399.0 L1430.6 399.1 L1432.1 399.2 L1433.6 399.2 L1435.1 399.3 L1436.6 399.4 L1438.1 399.5 L1439.6 400.2 L1441.1 401.8 L1442.6 404.1 L1444.1 406.8 L1445.6 409.7 L1447.1 412.5 L1448.6 415.1 L1450.1 418.1 L1451.6 421.6 L1453.1 425.2 L1454.6 428.6 L1456.1 431.4 L1457.6 433.4 L1459.1 434.0 L1460.6 433.7 L1462.1 433.2 L1463.6 432.7 L1465.1 432.5 L1466.6 432.9 L1468.1 433.9 L1469.6 435.2 L1471.1 436.4 L1472.6 437.3 L1474.1 438.1 L1475.6 438.9 L1477.1 439.6 L1478.6 440.2 L1480.1 440.8 L1480.5 441.0" stroke="#4c7cb8" stroke-width="4.5"/>
<circle cx="341.6" cy="439.6" r="11.7" fill="#3b79c4"/><circle cx="381.0" cy="433.9" r="11.7" fill="#3b79c4"/><circle cx="419.0" cy="438.3" r="11.7" fill="#3b79c4"/><circle cx="457.1" cy="442.1" r="11.7" fill="#3b79c4"/><circle cx="495.5" cy="438.7" r="11.7" fill="#3b79c4"/><circle cx="533.2" cy="426.8" r="11.7" fill="#3b79c4"/><circle cx="571.2" cy="270.2" r="11.7" fill="#3b79c4"/><circle cx="609.6" cy="90.1" r="11.7" fill="#3b79c4"/><circle cx="647.7" cy="90.1" r="11.7" fill="#3b79c4"/><circle cx="685.4" cy="83.3" r="11.7" fill="#3b79c4"/><circle cx="724.1" cy="83.8" r="11.7" fill="#3b79c4"/><circle cx="761.5" cy="77.6" r="11.7" fill="#3b79c4"/><circle cx="799.9" cy="113.9" r="11.7" fill="#3b79c4"/><circle cx="838.0" cy="388.1" r="11.7" fill="#3b79c4"/><circle cx="876.0" cy="420.3" r="11.7" fill="#3b79c4"/><circle cx="914.5" cy="429.6" r="11.7" fill="#3b79c4"/><circle cx="952.5" cy="408.8" r="11.7" fill="#3b79c4"/><circle cx="990.6" cy="409.2" r="11.7" fill="#3b79c4"/><circle cx="1029.3" cy="438.7" r="11.7" fill="#3b79c4"/><circle cx="1067.0" cy="446.5" r="11.7" fill="#3b79c4"/><circle cx="1104.7" cy="649.4" r="11.7" fill="#3b79c4"/><circle cx="1143.1" cy="748.3" r="11.7" fill="#3b79c4"/><circle cx="1181.5" cy="764.3" r="11.7" fill="#3b79c4"/><circle cx="1219.6" cy="767.0" r="11.7" fill="#3b79c4"/><circle cx="1258.0" cy="749.6" r="11.7" fill="#3b79c4"/><circle cx="1296.0" cy="749.6" r="11.7" fill="#3b79c4"/><circle cx="1334.4" cy="661.3" r="11.7" fill="#3b79c4"/><circle cx="1372.5" cy="438.1" r="11.7" fill="#3b79c4"/><circle cx="1410.2" cy="398.7" r="11.7" fill="#3b79c4"/><circle cx="1448.2" cy="414.4" r="11.7" fill="#3b79c4"/><circle cx="1480.5" cy="441.0" r="11.7" fill="#3b79c4"/>
</g>
</g>
<rect x="341.7" y="1.4" width="1141.8" height="827.0" fill="none" stroke="#231f20" stroke-width="2.9"/>
<path d="M341.7 48.2h14.3M341.7 145.7h14.3M341.7 243.3h14.3M341.7 340.8h14.3M341.7 438.3h14.3M341.7 535.9h14.3M341.7 633.4h14.3M341.7 730.9h14.3M531.4 828.4v-13.6M722.2 828.4v-13.6M913.0 828.4v-13.6M1103.8 828.4v-13.6M1294.6 828.4v-13.6" stroke="#231f20" stroke-width="2.9" fill="none"/>
<text transform="translate(321.8 66.2) scale(1.016 1)" text-anchor="end" font-size="54.8">40</text>
<text transform="translate(321.8 163.7) scale(1.016 1)" text-anchor="end" font-size="54.8">30</text>
<text transform="translate(321.8 261.3) scale(1.016 1)" text-anchor="end" font-size="54.8">20</text>
<text transform="translate(321.8 358.8) scale(1.016 1)" text-anchor="end" font-size="54.8">10</text>
<text transform="translate(321.8 456.3) scale(1.016 1)" text-anchor="end" font-size="54.8">0</text>
<text transform="translate(321.8 553.9) scale(1.016 1)" text-anchor="end" font-size="54.8">−10</text>
<text transform="translate(321.8 651.4) scale(1.016 1)" text-anchor="end" font-size="54.8">−20</text>
<text transform="translate(321.8 748.9) scale(1.016 1)" text-anchor="end" font-size="54.8">−30</text>
<text transform="translate(321.8 846.4) scale(1.016 1)" text-anchor="end" font-size="54.8">−40</text>
<text transform="translate(342.0 886.8) scale(1.016 1)" text-anchor="middle" font-size="54.8">0</text>
<text transform="translate(531.4 886.8) scale(1.016 1)" text-anchor="middle" font-size="54.8">500</text>
<text transform="translate(722.2 886.8) scale(1.016 1)" text-anchor="middle" font-size="54.8">1 000</text>
<text transform="translate(913.0 886.8) scale(1.016 1)" text-anchor="middle" font-size="54.8">1 500</text>
<text transform="translate(1103.8 886.8) scale(1.016 1)" text-anchor="middle" font-size="54.8">2 000</text>
<text transform="translate(1294.6 886.8) scale(1.016 1)" text-anchor="middle" font-size="54.8">2 500</text>
<text transform="translate(1486.0 886.8) scale(1.016 1)" text-anchor="middle" font-size="54.8">3 000</text>
<text transform="translate(912.6 966.0) scale(1.016 1)" text-anchor="middle" font-size="54.8">Time/μs</text>
<text transform="translate(190.9 413.8) rotate(-90) scale(1.016 1)" text-anchor="middle" font-size="54.8">True stress/MPa</text>
<g filter="url(#soft)">
<path d="M1012.2 53.7H1135.4" stroke="#565961" stroke-width="6.2" fill="none"/>
<circle cx="1071.4" cy="53.7" r="11.5" fill="#3d4048"/>
<path d="M1012.2 120.6H1135.4" stroke="#6384b4" stroke-width="6.2" fill="none"/>
<circle cx="1071.4" cy="120.6" r="11.5" fill="#3b79c4"/>
</g>
<text transform="translate(1154.6 70.1) scale(1.011 1)" text-anchor="start" font-size="54.8">Tension-Inci.</text>
<text transform="translate(1154.6 136.1) scale(1.011 1)" text-anchor="start" font-size="54.8">Torsion-Inci.</text>
<text transform="translate(465.4 711.5) scale(1.016 1)" text-anchor="start" font-size="54.8">Δ</text>
<text transform="translate(502.6 711.5) scale(1.016 1)" text-anchor="start" font-size="54.8" font-style="italic">t</text>
<text transform="translate(515.0 709.1) scale(1.13 0.8)" text-anchor="start" font-size="54.8">=</text>
<text transform="translate(588.0 674.4) scale(1.016 1)" text-anchor="start" font-size="54.8" font-style="italic">L</text>
<g opacity="0.999"><text transform="translate(618.6 686.0) scale(1.016 1)" text-anchor="start" font-size="33">tor</text></g>
<text transform="translate(591.0 750.5) scale(1.05 1)" text-anchor="start" font-size="54.8" font-style="italic">G</text>
<text transform="translate(631.6 750.5) scale(1.016 1)" text-anchor="start" font-size="54.8">/</text>
<text transform="translate(644.2 750.5) scale(1.04 1)" text-anchor="start" font-size="54.8" font-style="italic">ρ</text>
<text transform="translate(694.4 711.5) scale(1.13 1)" text-anchor="start" font-size="54.8">−</text>
<text transform="translate(770.2 674.4) scale(1.016 1)" text-anchor="start" font-size="54.8" font-style="italic">L</text>
<g opacity="0.999"><text transform="translate(801.8 686.0) scale(0.98 1)" text-anchor="start" font-size="33">ten</text></g>
<text transform="translate(772.4 750.5) scale(1.06 1)" text-anchor="start" font-size="54.8" font-style="italic">E</text>
<text transform="translate(808.2 750.5) scale(1.016 1)" text-anchor="start" font-size="54.8">/</text>
<text transform="translate(820.8 750.5) scale(1.04 1)" text-anchor="start" font-size="54.8" font-style="italic">ρ</text>
<path d="M556.9 694.7H683.8M739.4 694.7H865.9" stroke="#231f20" stroke-width="2.1" fill="none"/>
<path d="M558.9 731.2L565.6 727.2L577.2 754.5L584.3 704.9H674.7" stroke="#231f20" stroke-width="2.0" fill="none" stroke-linejoin="miter"/>
<path d="M566.2 728.0L576.6 752.0" stroke="#231f20" stroke-width="4.0" fill="none"/>
<path d="M741.1 731.2L747.8 727.2L759.4 754.5L766.5 704.9H856.9" stroke="#231f20" stroke-width="2.0" fill="none" stroke-linejoin="miter"/>
<path d="M748.4 728.0L758.8 752.0" stroke="#231f20" stroke-width="4.0" fill="none"/>
<!-- (b) right chart -->
<clipPath id="clip2"><rect x="1794.0" y="0" width="1149.0" height="832"/></clipPath>
<g clip-path="url(#clip2)" fill="none" stroke-linejoin="round" stroke-linecap="round">
<g filter="url(#blur)" opacity="0.9">
<path d="M1901.0 439.6 L1902.5 439.2 L1904.0 438.8 L1905.5 438.4 L1907.0 438.0 L1908.5 437.7 L1910.0 437.4 L1911.5 437.0 L1913.0 436.7 L1914.5 436.4 L1916.0 436.2 L1917.5 435.9 L1919.0 435.6 L1920.5 435.4 L1922.0 435.2 L1923.5 435.0 L1925.0 434.8 L1926.5 434.6 L1928.0 434.5 L1929.5 434.4 L1931.0 434.2 L1932.5 434.1 L1934.0 434.1 L1935.5 434.0 L1937.0 433.9 L1938.5 433.9 L1940.0 433.9 L1941.5 433.9 L1943.0 433.9 L1944.5 434.0 L1946.0 434.1 L1947.5 434.2 L1949.0 434.3 L1950.5 434.5 L1952.0 434.6 L1953.5 434.8 L1955.0 435.0 L1956.5 435.2 L1958.0 435.4 L1959.5 435.6 L1961.0 435.8 L1962.5 436.1 L1964.0 436.3 L1965.5 436.5 L1967.0 436.8 L1968.5 437.0 L1970.0 437.2 L1971.5 437.4 L1973.0 437.6 L1974.5 437.8 L1976.0 438.0 L1977.5 438.2 L1979.0 438.4 L1980.5 438.5 L1982.0 438.7 L1983.5 438.9 L1985.0 439.1 L1986.5 439.3 L1988.0 439.5 L1989.5 439.7 L1991.0 439.9 L1992.5 440.1 L1994.0 440.3 L1995.5 440.5 L1997.0 440.7 L1998.5 440.8 L2000.0 441.0 L2001.5 441.2 L2003.0 441.3 L2004.5 441.5 L2006.0 441.6 L2007.5 441.7 L2009.0 441.8 L2010.5 441.9 L2012.0 442.0 L2013.5 442.1 L2015.0 442.1 L2016.5 442.1 L2018.0 442.1 L2019.5 442.1 L2021.0 442.0 L2022.5 442.0 L2024.0 441.9 L2025.5 441.9 L2027.0 441.8 L2028.5 441.7 L2030.0 441.6 L2031.5 441.4 L2033.0 441.3 L2034.5 441.2 L2036.0 441.0 L2037.5 440.9 L2039.0 440.7 L2040.5 440.6 L2042.0 440.4 L2043.5 440.2 L2045.0 440.0 L2046.5 439.8 L2048.0 439.6 L2049.5 439.4 L2051.0 439.2 L2052.5 439.0 L2054.0 438.8 L2055.5 438.6 L2057.0 438.3 L2058.5 438.0 L2060.0 437.6 L2061.5 437.1 L2063.0 436.6 L2064.5 436.0 L2066.0 435.4 L2067.5 434.8 L2069.0 434.2 L2070.5 433.5 L2072.0 432.9 L2073.5 432.2 L2075.0 431.6 L2076.5 430.9 L2078.0 430.3 L2079.5 429.7 L2081.0 429.1 L2082.5 428.6 L2084.0 428.2 L2085.5 427.8 L2087.0 427.4 L2088.5 427.1 L2090.0 426.9 L2091.5 426.8 L2093.0 426.8 L2094.5 427.3 L2096.0 428.1 L2097.5 429.1 L2099.0 430.2 L2100.5 431.0 L2102.0 431.5 L2103.5 431.5 L2105.0 431.5 L2106.5 431.4 L2108.0 431.4 L2109.5 431.3 L2111.0 430.9 L2112.5 428.9 L2114.0 425.4 L2115.5 421.0 L2117.0 415.7 L2118.5 407.1 L2120.0 395.6 L2121.5 382.0 L2123.0 367.2 L2124.5 351.8 L2126.0 332.7 L2127.5 311.2 L2129.0 289.9 L2130.5 271.3 L2132.0 255.5 L2133.5 240.4 L2135.0 226.1 L2136.5 212.6 L2138.0 200.1 L2139.5 188.6 L2141.0 178.2 L2142.5 168.8 L2144.0 160.3 L2145.5 152.5 L2147.0 145.0 L2148.5 137.6 L2150.0 129.6 L2151.5 121.6 L2153.0 113.9 L2154.5 107.2 L2156.0 101.9 L2157.5 98.4 L2159.0 96.6 L2160.5 94.9 L2162.0 93.5 L2163.5 92.3 L2165.0 91.3 L2166.5 90.6 L2168.0 90.2 L2169.5 90.1 L2171.0 90.1 L2172.5 90.1 L2174.0 90.1 L2175.5 90.1 L2177.0 90.1 L2178.5 90.1 L2180.0 90.1 L2181.5 90.1 L2183.0 90.1 L2184.5 90.1 L2186.0 90.1 L2187.5 90.1 L2189.0 90.1 L2190.5 90.1 L2192.0 90.1 L2193.5 90.1 L2195.0 90.1 L2196.5 90.1 L2198.0 90.1 L2199.5 90.1 L2201.0 90.1 L2202.5 90.1 L2204.0 90.1 L2205.5 90.1 L2207.0 90.1 L2208.5 90.1 L2210.0 90.0 L2211.5 90.0 L2213.0 89.9 L2214.5 89.8 L2216.0 89.6 L2217.5 89.5 L2219.0 89.3 L2220.5 89.1 L2222.0 88.9 L2223.5 88.6 L2225.0 88.3 L2226.5 88.1 L2228.0 87.8 L2229.5 87.4 L2231.0 87.1 L2232.5 86.7 L2234.0 86.4 L2235.5 86.0 L2237.0 85.6 L2238.5 85.2 L2240.0 84.7 L2241.5 84.3 L2243.0 83.9 L2244.5 83.4 L2246.0 82.8 L2247.5 81.9 L2249.0 80.7 L2250.5 79.3 L2252.0 77.9 L2253.5 76.4 L2255.0 75.2 L2256.5 74.1 L2258.0 73.4 L2259.5 73.0 L2261.0 73.3 L2262.5 74.1 L2264.0 75.1 L2265.5 76.0 L2267.0 76.8 L2268.5 77.6 L2270.0 78.5 L2271.5 79.4 L2273.0 80.2 L2274.5 81.0 L2276.0 81.8 L2277.5 82.4 L2279.0 83.0 L2280.5 83.4 L2282.0 83.7 L2283.5 83.8 L2285.0 83.8 L2286.5 83.7 L2288.0 83.6 L2289.5 83.4 L2291.0 83.2 L2292.5 82.9 L2294.0 82.6 L2295.5 82.3 L2297.0 82.0 L2298.5 81.6 L2300.0 81.2 L2301.5 80.9 L2303.0 80.5 L2304.5 80.1 L2306.0 79.8 L2307.5 79.4 L2309.0 79.1 L2310.5 78.8 L2312.0 78.5 L2313.5 78.2 L2315.0 78.0 L2316.5 77.8 L2318.0 77.7 L2319.5 77.6 L2321.0 77.6 L2322.5 77.7 L2324.0 78.0 L2325.5 78.5 L2327.0 79.1 L2328.5 79.8 L2330.0 80.6 L2331.5 81.6 L2333.0 82.6 L2334.5 83.6 L2336.0 84.7 L2337.5 85.7 L2339.0 86.8 L2340.5 88.0 L2342.0 89.3 L2343.5 90.7 L2345.0 92.3 L2346.5 93.9 L2348.0 95.7 L2349.5 97.7 L2351.0 99.8 L2352.5 102.0 L2354.0 104.3 L2355.5 106.8 L2357.0 109.5 L2358.5 112.3 L2360.0 115.4 L2361.5 119.4 L2363.0 124.2 L2364.5 129.6 L2366.0 135.4 L2367.5 141.9 L2369.0 149.2 L2370.5 157.4 L2372.0 166.5 L2373.5 177.4 L2375.0 190.3 L2376.5 204.7 L2378.0 220.1 L2379.5 236.0 L2381.0 251.9 L2382.5 267.3 L2384.0 281.9 L2385.5 296.3 L2387.0 311.0 L2388.5 325.3 L2390.0 338.8 L2391.5 350.7 L2393.0 361.7 L2394.5 372.0 L2396.0 381.1 L2397.5 388.5 L2399.0 395.0 L2400.5 401.0 L2402.0 406.4 L2403.5 411.0 L2405.0 414.4 L2406.5 416.7 L2408.0 418.6 L2409.5 420.4 L2411.0 421.9 L2412.5 423.1 L2414.0 423.9 L2415.5 424.4 L2417.0 424.4 L2418.5 424.2 L2420.0 424.0 L2421.5 423.6 L2423.0 423.2 L2424.5 422.7 L2426.0 422.3 L2427.5 421.8 L2429.0 421.4 L2430.5 421.0 L2432.0 420.6 L2433.5 420.4 L2435.0 420.3 L2436.5 420.3 L2438.0 420.4 L2439.5 420.6 L2441.0 420.8 L2442.5 421.1 L2444.0 421.5 L2445.5 421.9 L2447.0 422.3 L2448.5 422.8 L2450.0 423.3 L2451.5 423.8 L2453.0 424.4 L2454.5 424.9 L2456.0 425.4 L2457.5 426.0 L2459.0 426.5 L2460.5 427.0 L2462.0 427.5 L2463.5 427.9 L2465.0 428.3 L2466.5 428.7 L2468.0 429.0 L2469.5 429.3 L2471.0 429.4 L2472.5 429.6 L2474.0 429.6 L2475.5 429.5 L2477.0 429.4 L2478.5 429.2 L2480.0 428.8 L2481.5 428.4 L2483.0 428.0 L2484.5 427.4 L2486.0 426.8 L2487.5 426.1 L2489.0 425.3 L2490.5 424.5 L2492.0 423.7 L2493.5 422.7 L2495.0 421.8 L2496.5 420.8 L2498.0 419.7 L2499.5 418.6 L2501.0 417.5 L2502.5 416.4 L2504.0 415.2 L2505.5 414.0 L2507.0 412.8 L2508.5 411.6 L2510.0 410.4 L2511.5 409.1 L2513.0 407.7 L2514.5 405.7 L2516.0 403.3 L2517.5 400.7 L2519.0 398.0 L2520.5 395.4 L2522.0 393.1 L2523.5 391.2 L2525.0 390.0 L2526.5 389.5 L2528.0 389.9 L2529.5 390.7 L2531.0 391.7 L2532.5 392.7 L2534.0 393.8 L2535.5 395.0 L2537.0 396.3 L2538.5 397.6 L2540.0 399.0 L2541.5 400.5 L2543.0 402.0 L2544.5 403.6 L2546.0 405.1 L2547.5 406.7 L2549.0 408.2 L2550.5 409.7 L2552.0 411.3 L2553.5 413.0 L2555.0 414.8 L2556.5 416.6 L2558.0 418.4 L2559.5 420.2 L2561.0 421.9 L2562.5 423.6 L2564.0 425.1 L2565.5 426.5 L2567.0 427.7 L2568.5 428.8 L2570.0 429.7 L2571.5 430.7 L2573.0 431.6 L2574.5 432.5 L2576.0 433.3 L2577.5 434.1 L2579.0 434.9 L2580.5 435.6 L2582.0 436.2 L2583.5 436.9 L2585.0 437.4 L2586.5 438.0 L2588.0 438.5 L2589.5 438.9 L2591.0 439.3 L2592.5 439.7 L2594.0 440.0 L2595.5 440.3 L2597.0 440.6 L2598.5 440.9 L2600.0 441.1 L2601.5 441.3 L2603.0 441.5 L2604.5 441.7 L2606.0 441.9 L2607.5 442.1 L2609.0 442.3 L2610.5 442.5 L2612.0 442.7 L2613.5 443.0 L2615.0 443.2 L2616.5 443.5 L2618.0 443.9 L2619.5 444.2 L2621.0 444.6 L2622.5 445.1 L2624.0 445.6 L2625.5 446.1 L2627.0 446.8 L2628.5 447.8 L2630.0 449.1 L2631.5 450.8 L2633.0 452.9 L2634.5 455.3 L2636.0 458.0 L2637.5 461.0 L2639.0 464.3 L2640.5 468.1 L2642.0 473.6 L2643.5 480.8 L2645.0 489.2 L2646.5 498.4 L2648.0 508.0 L2649.5 517.7 L2651.0 527.8 L2652.5 539.2 L2654.0 551.5 L2655.5 564.6 L2657.0 578.3 L2658.5 592.5 L2660.0 607.0 L2661.5 623.3 L2663.0 640.0 L2664.5 652.0 L2666.0 660.7 L2667.5 668.0 L2669.0 674.4 L2670.5 680.3 L2672.0 686.0 L2673.5 692.1 L2675.0 698.6 L2676.5 705.4 L2678.0 712.2 L2679.5 718.7 L2681.0 724.7 L2682.5 729.9 L2684.0 733.9 L2685.5 737.4 L2687.0 740.6 L2688.5 743.1 L2690.0 744.8 L2691.5 745.5 L2693.0 746.1 L2694.5 746.5 L2696.0 746.8 L2697.5 747.1 L2699.0 747.4 L2700.5 747.8 L2702.0 748.1 L2703.5 748.6 L2705.0 749.2 L2706.5 749.8 L2708.0 750.4 L2709.5 751.1 L2711.0 751.8 L2712.5 752.5 L2714.0 753.2 L2715.5 754.0 L2717.0 754.8 L2718.5 755.6 L2720.0 756.4 L2721.5 757.1 L2723.0 757.9 L2724.5 758.7 L2726.0 759.4 L2727.5 760.1 L2729.0 760.8 L2730.5 761.4 L2732.0 762.0 L2733.5 762.5 L2735.0 763.0 L2736.5 763.4 L2738.0 763.8 L2739.5 764.1 L2741.0 764.3 L2742.5 764.5 L2744.0 764.7 L2745.5 764.8 L2747.0 765.0 L2748.5 765.2 L2750.0 765.3 L2751.5 765.5 L2753.0 765.6 L2754.5 765.8 L2756.0 765.9 L2757.5 766.0 L2759.0 766.2 L2760.5 766.3 L2762.0 766.4 L2763.5 766.5 L2765.0 766.6 L2766.5 766.7 L2768.0 766.7 L2769.5 766.8 L2771.0 766.9 L2772.5 766.9 L2774.0 766.9 L2775.5 767.0 L2777.0 767.0 L2778.5 767.0 L2780.0 767.0 L2781.5 766.8 L2783.0 766.5 L2784.5 766.0 L2786.0 765.5 L2787.5 764.9 L2789.0 764.2 L2790.5 763.4 L2792.0 762.2 L2793.5 760.3 L2795.0 758.1 L2796.5 755.8 L2798.0 753.8 L2799.5 752.4 L2801.0 751.8 L2802.5 751.5 L2804.0 751.1 L2805.5 750.8 L2807.0 750.5 L2808.5 750.3 L2810.0 750.1 L2811.5 749.9 L2813.0 749.8 L2814.5 749.7 L2816.0 749.6 L2817.5 749.6 L2819.0 749.6 L2820.5 749.6 L2822.0 749.6 L2823.5 749.6 L2825.0 749.6 L2826.5 749.6 L2828.0 749.6 L2829.5 749.6 L2831.0 749.6 L2832.5 749.6 L2834.0 749.6 L2835.5 749.6 L2837.0 749.6 L2838.5 749.6 L2840.0 749.6 L2841.5 749.6 L2843.0 749.6 L2844.5 749.6 L2846.0 749.6 L2847.5 749.6 L2849.0 749.6 L2850.5 749.6 L2852.0 749.6 L2853.5 749.6 L2855.0 749.6 L2856.5 749.4 L2858.0 748.8 L2859.5 747.6 L2861.0 746.1 L2862.5 744.2 L2864.0 742.0 L2865.5 739.5 L2867.0 736.9 L2868.5 734.3 L2870.0 731.6 L2871.5 728.8 L2873.0 725.3 L2874.5 721.3 L2876.0 716.8 L2877.5 711.9 L2879.0 706.9 L2880.5 701.8 L2882.0 696.8 L2883.5 691.9 L2885.0 687.5 L2886.5 683.5 L2888.0 679.6 L2889.5 675.7 L2891.0 671.4 L2892.5 666.4 L2894.0 660.4 L2895.5 652.2 L2897.0 641.9 L2898.5 630.2 L2900.0 618.1 L2901.5 606.5 L2903.0 594.5 L2904.5 581.9 L2906.0 569.2 L2907.5 556.9 L2909.0 545.5 L2910.5 535.4 L2912.0 525.8 L2913.5 516.6 L2915.0 507.7 L2916.5 499.1 L2918.0 491.0 L2919.5 483.4 L2921.0 476.2 L2922.5 469.6 L2924.0 463.5 L2925.5 457.5 L2927.0 451.9 L2928.5 446.7 L2930.0 442.3 L2931.5 438.8 L2933.0 436.3 L2934.5 434.1 L2936.0 432.1 L2937.5 430.3 L2939.0 428.7 L2940.5 427.2 L2942.0 425.9 L2943.5 424.6 L2945.0 423.3 L2946.5 422.0 L2948.0 420.7 L2949.5 419.3 L2951.0 417.8 L2952.5 416.1 L2954.0 414.2 L2955.5 412.2 L2957.0 410.2 L2958.5 408.1 L2960.0 406.2 L2961.5 404.3 L2963.0 402.6 L2964.5 401.1 L2966.0 400.0 L2967.5 399.2 L2969.0 398.7 L2970.5 398.7 L2972.0 398.7 L2973.5 398.7 L2975.0 398.7 L2976.5 398.7 L2978.0 398.8 L2979.5 398.8 L2981.0 398.8 L2982.5 398.8 L2984.0 398.9 L2985.5 398.9 L2987.0 399.0 L2988.5 399.0 L2990.0 399.1 L2991.5 399.2 L2993.0 399.2 L2994.5 399.3 L2996.0 399.4 L2997.5 399.5 L2999.0 400.2 L3000.5 401.8 L3002.0 404.1 L3003.5 406.8 L3005.0 409.7 L3006.5 412.5 L3008.0 415.1 L3009.5 418.1 L3011.0 421.6 L3012.5 425.2 L3014.0 428.6 L3015.5 431.4 L3017.0 433.4 L3018.5 434.0 L3020.0 433.7 L3021.5 433.2 L3023.0 432.7 L3024.5 432.5 L3026.0 432.9 L3027.5 433.9 L3029.0 435.2 L3030.5 436.4 L3032.0 437.3 L3033.5 438.1 L3035.0 438.9 L3036.5 439.6 L3038.0 440.2 L3039.5 440.8 L3039.9 441.0" stroke="#e3effa" stroke-width="17"/>
<path d="M1796.6 439.6 L1798.1 439.2 L1799.6 438.7 L1801.1 438.3 L1802.6 437.9 L1804.1 437.5 L1805.6 437.2 L1807.1 436.8 L1808.6 436.5 L1810.1 436.2 L1811.6 435.9 L1813.1 435.6 L1814.6 435.3 L1816.1 435.1 L1817.6 434.9 L1819.1 434.7 L1820.6 434.5 L1822.1 434.3 L1823.6 434.1 L1825.1 434.0 L1826.6 433.9 L1828.1 433.8 L1829.6 433.7 L1831.1 433.6 L1832.6 433.5 L1834.1 433.5 L1835.6 433.5 L1837.1 433.5 L1838.6 433.5 L1840.1 433.6 L1841.6 433.7 L1843.1 433.8 L1844.6 434.0 L1846.1 434.2 L1847.6 434.3 L1849.1 434.6 L1850.6 434.8 L1852.1 435.0 L1853.6 435.2 L1855.1 435.5 L1856.6 435.8 L1858.1 436.0 L1859.6 436.3 L1861.1 436.6 L1862.6 436.8 L1864.1 437.1 L1865.6 437.3 L1867.1 437.6 L1868.6 437.8 L1870.1 438.0 L1871.6 438.2 L1873.1 438.4 L1874.6 438.6 L1876.1 438.7 L1877.6 438.9 L1879.1 439.1 L1880.6 439.3 L1882.1 439.5 L1883.6 439.6 L1885.1 439.8 L1886.6 440.0 L1888.1 440.2 L1889.6 440.4 L1891.1 440.5 L1892.6 440.7 L1894.1 440.9 L1895.6 441.0 L1897.1 441.2 L1898.6 441.3 L1900.1 441.5 L1901.6 441.6 L1903.1 441.7 L1904.6 441.8 L1906.1 441.9 L1907.6 441.9 L1909.1 442.0 L1910.6 442.0 L1912.1 442.0 L1913.6 442.0 L1915.1 442.0 L1916.6 441.9 L1918.1 441.8 L1919.6 441.8 L1921.1 441.7 L1922.6 441.5 L1924.1 441.4 L1925.6 441.3 L1927.1 441.2 L1928.6 441.0 L1930.1 440.9 L1931.6 440.7 L1933.1 440.6 L1934.6 440.4 L1936.1 440.2 L1937.6 440.1 L1939.1 440.0 L1940.6 439.8 L1942.1 439.7 L1943.6 439.6 L1945.1 439.5 L1946.6 439.4 L1948.1 439.3 L1949.6 439.2 L1951.1 439.2 L1952.6 439.1 L1954.1 439.1 L1955.6 439.1 L1957.1 439.0 L1958.6 439.0 L1960.1 439.0 L1961.6 439.0 L1963.1 438.9 L1964.6 438.9 L1966.1 438.9 L1967.6 438.9 L1969.1 438.9 L1970.6 438.8 L1972.1 438.8 L1973.6 438.8 L1975.1 438.8 L1976.6 438.7 L1978.1 438.7 L1979.6 438.7 L1981.1 438.7 L1982.6 438.6 L1984.1 438.6 L1985.6 438.6 L1987.1 438.5 L1988.6 438.5 L1990.1 438.4 L1991.6 438.3 L1993.1 438.2 L1994.6 438.1 L1996.1 438.0 L1997.6 437.9 L1999.1 437.7 L2000.6 437.6 L2002.1 437.4 L2003.6 437.3 L2005.1 437.1 L2006.6 436.9 L2008.1 436.8 L2009.6 436.6 L2011.1 436.5 L2012.6 436.3 L2014.1 436.2 L2015.6 436.0 L2017.1 435.9 L2018.6 435.8 L2020.1 435.7 L2021.6 435.7 L2023.1 435.6 L2024.6 435.6 L2026.1 435.6 L2027.6 435.6 L2029.1 435.7 L2030.6 435.8 L2032.1 435.9 L2033.6 436.1 L2035.1 436.2 L2036.6 436.4 L2038.1 436.6 L2039.6 436.9 L2041.1 437.1 L2042.6 437.3 L2044.1 437.6 L2045.6 437.8 L2047.1 438.1 L2048.6 438.3 L2050.1 438.5 L2051.6 438.7 L2053.1 438.9 L2054.6 439.1 L2056.1 439.3 L2057.6 439.4 L2059.1 439.5 L2060.6 439.6 L2062.1 439.7 L2063.6 439.7 L2065.1 439.7 L2066.6 439.7 L2068.1 439.6 L2069.6 439.5 L2071.1 439.4 L2072.6 439.3 L2074.1 439.2 L2075.6 439.0 L2077.1 438.8 L2078.6 438.6 L2080.1 438.4 L2081.6 438.1 L2083.1 437.8 L2084.6 437.5 L2086.1 437.2 L2087.6 436.9 L2089.1 436.5 L2090.6 436.1 L2092.1 435.7 L2093.6 435.3 L2095.1 434.8 L2096.6 434.4 L2098.1 433.9 L2099.6 433.3 L2101.1 432.8 L2102.6 432.2 L2104.1 431.5 L2105.6 430.3 L2107.1 428.7 L2108.6 426.8 L2110.1 424.6 L2111.6 421.9 L2113.1 417.8 L2114.6 411.9 L2116.1 404.5 L2117.6 396.0 L2119.1 386.6 L2120.6 376.6 L2122.1 366.4 L2123.6 356.1 L2125.1 346.0 L2126.6 335.0 L2128.1 322.9 L2129.6 310.3 L2131.1 297.6 L2132.6 285.4 L2134.1 274.0 L2135.6 263.0 L2137.1 252.3 L2138.6 241.8 L2140.1 231.5 L2141.6 221.3 L2143.1 211.0 L2144.6 200.8 L2146.1 190.8 L2147.6 181.3 L2149.1 172.4 L2150.6 164.3 L2152.1 156.8 L2153.6 149.6 L2155.1 142.8 L2156.6 136.6 L2158.1 130.9 L2159.6 125.9 L2161.1 121.0 L2162.6 116.5 L2164.1 112.2 L2165.6 108.4 L2167.1 105.0 L2168.6 102.1 L2170.1 99.6 L2171.6 97.1 L2173.1 94.7 L2174.6 92.6 L2176.1 90.9 L2177.6 89.8 L2179.1 89.4 L2180.6 89.4 L2182.1 89.6 L2183.6 89.7 L2185.1 90.0 L2186.6 90.3 L2188.1 90.7 L2189.6 91.1 L2191.1 91.5 L2192.6 92.0 L2194.1 92.4 L2195.6 92.9 L2197.1 93.5 L2198.6 94.0 L2200.1 94.5 L2201.6 95.0 L2203.1 95.5 L2204.6 95.9 L2206.1 96.4 L2207.6 96.8 L2209.1 97.1 L2210.6 97.4 L2212.1 97.7 L2213.6 97.9 L2215.1 98.0 L2216.6 98.0 L2218.1 98.0 L2219.6 97.9 L2221.1 97.8 L2222.6 97.7 L2224.1 97.5 L2225.6 97.3 L2227.1 97.1 L2228.6 96.8 L2230.1 96.6 L2231.6 96.3 L2233.1 96.0 L2234.6 95.7 L2236.1 95.4 L2237.6 95.1 L2239.1 94.9 L2240.6 94.6 L2242.1 94.3 L2243.6 94.0 L2245.1 93.8 L2246.6 93.6 L2248.1 93.4 L2249.6 93.2 L2251.1 93.1 L2252.6 93.0 L2254.1 92.9 L2255.6 92.9 L2257.1 92.9 L2258.6 92.9 L2260.1 92.9 L2261.6 92.9 L2263.1 92.9 L2264.6 93.0 L2266.1 93.0 L2267.6 93.0 L2269.1 93.1 L2270.6 93.1 L2272.1 93.2 L2273.6 93.2 L2275.1 93.3 L2276.6 93.3 L2278.1 93.4 L2279.6 93.5 L2281.1 93.6 L2282.6 93.7 L2284.1 93.8 L2285.6 93.9 L2287.1 94.0 L2288.6 94.1 L2290.1 94.2 L2291.6 94.4 L2293.1 94.5 L2294.6 94.9 L2296.1 95.9 L2297.6 97.7 L2299.1 100.0 L2300.6 102.8 L2302.1 105.7 L2303.6 108.8 L2305.1 111.9 L2306.6 115.3 L2308.1 119.1 L2309.6 123.4 L2311.1 128.1 L2312.6 133.1 L2314.1 138.4 L2315.6 144.0 L2317.1 150.2 L2318.6 156.9 L2320.1 164.2 L2321.6 172.0 L2323.1 180.2 L2324.6 188.9 L2326.1 198.3 L2327.6 209.7 L2329.1 221.8 L2330.6 233.0 L2332.1 241.9 L2333.6 249.4 L2335.1 256.1 L2336.6 262.3 L2338.1 268.6 L2339.6 275.2 L2341.1 282.5 L2342.6 290.2 L2344.1 298.2 L2345.6 306.4 L2347.1 314.7 L2348.6 323.2 L2350.1 331.8 L2351.6 340.5 L2353.1 349.3 L2354.6 358.0 L2356.1 366.7 L2357.6 375.6 L2359.1 384.6 L2360.6 393.7 L2362.1 402.8 L2363.6 411.8 L2365.1 421.1 L2366.6 432.2 L2368.1 442.8 L2369.6 450.0 L2371.1 451.8 L2372.6 452.1 L2374.1 452.5 L2375.6 452.8 L2377.1 453.0 L2378.6 453.2 L2380.1 453.4 L2381.6 453.5 L2383.1 453.6 L2384.6 453.7 L2386.1 453.8 L2387.6 453.9 L2389.1 454.0 L2390.6 454.0 L2392.1 454.1 L2393.6 454.2 L2395.1 454.2 L2396.6 454.3 L2398.1 454.4 L2399.6 454.5 L2401.1 454.7 L2402.6 454.9 L2404.1 455.1 L2405.6 455.3 L2407.1 455.6 L2408.6 456.0 L2410.1 456.5 L2411.6 457.3 L2413.1 458.1 L2414.6 459.2 L2416.1 460.3 L2417.6 461.6 L2419.1 463.0 L2420.6 464.5 L2422.1 466.0 L2423.6 467.7 L2425.1 469.8 L2426.6 472.3 L2428.1 475.2 L2429.6 478.5 L2431.1 482.5 L2432.6 487.6 L2434.1 493.5 L2435.6 500.0 L2437.1 506.9 L2438.6 513.7 L2440.1 520.3 L2441.6 526.8 L2443.1 533.4 L2444.6 540.1 L2446.1 546.9 L2447.6 553.8 L2449.1 561.0 L2450.6 568.2 L2452.1 575.3 L2453.6 582.4 L2455.1 589.2 L2456.6 595.7 L2458.1 601.9 L2459.6 608.2 L2461.1 614.4 L2462.6 620.4 L2464.1 626.2 L2465.6 631.6 L2467.1 636.5 L2468.6 640.9 L2470.1 644.6 L2471.6 648.1 L2473.1 651.2 L2474.6 653.8 L2476.1 655.7 L2477.6 657.4 L2479.1 659.0 L2480.6 660.3 L2482.1 661.4 L2483.6 662.1 L2485.1 662.5 L2486.6 662.8 L2488.1 663.1 L2489.6 663.4 L2491.1 663.7 L2492.6 664.0 L2494.1 664.2 L2495.6 664.5 L2497.1 664.7 L2498.6 664.9 L2500.1 665.1 L2501.6 665.3 L2503.1 665.4 L2504.6 665.6 L2506.1 665.7 L2507.6 665.8 L2509.1 666.0 L2510.6 666.1 L2512.1 666.1 L2513.6 666.2 L2515.1 666.3 L2516.6 666.3 L2518.1 666.4 L2519.6 666.4 L2521.1 666.4 L2522.6 666.4 L2524.1 666.4 L2525.6 666.3 L2527.1 666.2 L2528.6 666.1 L2530.1 666.0 L2531.6 665.8 L2533.1 665.6 L2534.6 665.4 L2536.1 665.2 L2537.6 665.0 L2539.1 664.7 L2540.6 664.5 L2542.1 664.2 L2543.6 663.9 L2545.1 663.6 L2546.6 663.3 L2548.1 663.0 L2549.6 662.7 L2551.1 662.4 L2552.6 662.1 L2554.1 661.7 L2555.6 661.4 L2557.1 661.1 L2558.6 660.8 L2560.1 660.5 L2561.6 660.2 L2563.1 660.0 L2564.6 659.7 L2566.1 659.5 L2567.6 659.2 L2569.1 658.9 L2570.6 658.7 L2572.1 658.4 L2573.6 658.2 L2575.1 657.9 L2576.6 657.6 L2578.1 657.3 L2579.6 657.0 L2581.1 656.6 L2582.6 656.2 L2584.1 655.8 L2585.6 655.4 L2587.1 655.0 L2588.6 654.5 L2590.1 653.9 L2591.6 653.4 L2593.1 652.8 L2594.6 652.1 L2596.1 651.4 L2597.6 650.7 L2599.1 649.7 L2600.6 648.0 L2602.1 645.6 L2603.6 642.6 L2605.1 639.2 L2606.6 635.5 L2608.1 631.7 L2609.6 627.7 L2611.1 623.8 L2612.6 620.1 L2614.1 616.6 L2615.6 613.2 L2617.1 609.7 L2618.6 606.2 L2620.1 602.6 L2621.6 598.9 L2623.1 595.1 L2624.6 591.1 L2626.1 586.8 L2627.6 582.4 L2629.1 577.5 L2630.6 572.4 L2632.1 566.9 L2633.6 561.2 L2635.1 555.3 L2636.6 549.2 L2638.1 542.8 L2639.6 535.9 L2641.1 528.7 L2642.6 521.4 L2644.1 514.0 L2645.6 506.6 L2647.1 499.4 L2648.6 492.4 L2650.1 485.8 L2651.6 479.5 L2653.1 473.0 L2654.6 466.3 L2656.1 459.8 L2657.6 453.6 L2659.1 448.0 L2660.6 443.3 L2662.1 439.8 L2663.6 437.3 L2665.1 435.1 L2666.6 433.0 L2668.1 431.1 L2669.6 429.6 L2671.1 428.4 L2672.6 427.7 L2674.1 427.5 L2675.6 427.6 L2677.1 427.8 L2678.6 428.0 L2680.1 428.4 L2681.6 428.8 L2683.1 429.3 L2684.6 429.8 L2686.1 430.3 L2687.6 430.8 L2689.1 431.4 L2690.6 431.9 L2692.1 432.4 L2693.6 432.9 L2695.1 433.4 L2696.6 433.9 L2698.1 434.5 L2699.6 435.1 L2701.1 435.7 L2702.6 436.3 L2704.1 437.0 L2705.6 437.7 L2707.1 438.3 L2707.9 438.7" stroke="#f1f1f2" stroke-width="12"/>
</g>
<g filter="url(#soft)">
<path d="M1796.6 439.6 L1798.1 439.2 L1799.6 438.7 L1801.1 438.3 L1802.6 437.9 L1804.1 437.5 L1805.6 437.2 L1807.1 436.8 L1808.6 436.5 L1810.1 436.2 L1811.6 435.9 L1813.1 435.6 L1814.6 435.3 L1816.1 435.1 L1817.6 434.9 L1819.1 434.7 L1820.6 434.5 L1822.1 434.3 L1823.6 434.1 L1825.1 434.0 L1826.6 433.9 L1828.1 433.8 L1829.6 433.7 L1831.1 433.6 L1832.6 433.5 L1834.1 433.5 L1835.6 433.5 L1837.1 433.5 L1838.6 433.5 L1840.1 433.6 L1841.6 433.7 L1843.1 433.8 L1844.6 434.0 L1846.1 434.2 L1847.6 434.3 L1849.1 434.6 L1850.6 434.8 L1852.1 435.0 L1853.6 435.2 L1855.1 435.5 L1856.6 435.8 L1858.1 436.0 L1859.6 436.3 L1861.1 436.6 L1862.6 436.8 L1864.1 437.1 L1865.6 437.3 L1867.1 437.6 L1868.6 437.8 L1870.1 438.0 L1871.6 438.2 L1873.1 438.4 L1874.6 438.6 L1876.1 438.7 L1877.6 438.9 L1879.1 439.1 L1880.6 439.3 L1882.1 439.5 L1883.6 439.6 L1885.1 439.8 L1886.6 440.0 L1888.1 440.2 L1889.6 440.4 L1891.1 440.5 L1892.6 440.7 L1894.1 440.9 L1895.6 441.0 L1897.1 441.2 L1898.6 441.3 L1900.1 441.5 L1901.6 441.6 L1903.1 441.7 L1904.6 441.8 L1906.1 441.9 L1907.6 441.9 L1909.1 442.0 L1910.6 442.0 L1912.1 442.0 L1913.6 442.0 L1915.1 442.0 L1916.6 441.9 L1918.1 441.8 L1919.6 441.8 L1921.1 441.7 L1922.6 441.5 L1924.1 441.4 L1925.6 441.3 L1927.1 441.2 L1928.6 441.0 L1930.1 440.9 L1931.6 440.7 L1933.1 440.6 L1934.6 440.4 L1936.1 440.2 L1937.6 440.1 L1939.1 440.0 L1940.6 439.8 L1942.1 439.7 L1943.6 439.6 L1945.1 439.5 L1946.6 439.4 L1948.1 439.3 L1949.6 439.2 L1951.1 439.2 L1952.6 439.1 L1954.1 439.1 L1955.6 439.1 L1957.1 439.0 L1958.6 439.0 L1960.1 439.0 L1961.6 439.0 L1963.1 438.9 L1964.6 438.9 L1966.1 438.9 L1967.6 438.9 L1969.1 438.9 L1970.6 438.8 L1972.1 438.8 L1973.6 438.8 L1975.1 438.8 L1976.6 438.7 L1978.1 438.7 L1979.6 438.7 L1981.1 438.7 L1982.6 438.6 L1984.1 438.6 L1985.6 438.6 L1987.1 438.5 L1988.6 438.5 L1990.1 438.4 L1991.6 438.3 L1993.1 438.2 L1994.6 438.1 L1996.1 438.0 L1997.6 437.9 L1999.1 437.7 L2000.6 437.6 L2002.1 437.4 L2003.6 437.3 L2005.1 437.1 L2006.6 436.9 L2008.1 436.8 L2009.6 436.6 L2011.1 436.5 L2012.6 436.3 L2014.1 436.2 L2015.6 436.0 L2017.1 435.9 L2018.6 435.8 L2020.1 435.7 L2021.6 435.7 L2023.1 435.6 L2024.6 435.6 L2026.1 435.6 L2027.6 435.6 L2029.1 435.7 L2030.6 435.8 L2032.1 435.9 L2033.6 436.1 L2035.1 436.2 L2036.6 436.4 L2038.1 436.6 L2039.6 436.9 L2041.1 437.1 L2042.6 437.3 L2044.1 437.6 L2045.6 437.8 L2047.1 438.1 L2048.6 438.3 L2050.1 438.5 L2051.6 438.7 L2053.1 438.9 L2054.6 439.1 L2056.1 439.3 L2057.6 439.4 L2059.1 439.5 L2060.6 439.6 L2062.1 439.7 L2063.6 439.7 L2065.1 439.7 L2066.6 439.7 L2068.1 439.6 L2069.6 439.5 L2071.1 439.4 L2072.6 439.3 L2074.1 439.2 L2075.6 439.0 L2077.1 438.8 L2078.6 438.6 L2080.1 438.4 L2081.6 438.1 L2083.1 437.8 L2084.6 437.5 L2086.1 437.2 L2087.6 436.9 L2089.1 436.5 L2090.6 436.1 L2092.1 435.7 L2093.6 435.3 L2095.1 434.8 L2096.6 434.4 L2098.1 433.9 L2099.6 433.3 L2101.1 432.8 L2102.6 432.2 L2104.1 431.5 L2105.6 430.3 L2107.1 428.7 L2108.6 426.8 L2110.1 424.6 L2111.6 421.9 L2113.1 417.8 L2114.6 411.9 L2116.1 404.5 L2117.6 396.0 L2119.1 386.6 L2120.6 376.6 L2122.1 366.4 L2123.6 356.1 L2125.1 346.0 L2126.6 335.0 L2128.1 322.9 L2129.6 310.3 L2131.1 297.6 L2132.6 285.4 L2134.1 274.0 L2135.6 263.0 L2137.1 252.3 L2138.6 241.8 L2140.1 231.5 L2141.6 221.3 L2143.1 211.0 L2144.6 200.8 L2146.1 190.8 L2147.6 181.3 L2149.1 172.4 L2150.6 164.3 L2152.1 156.8 L2153.6 149.6 L2155.1 142.8 L2156.6 136.6 L2158.1 130.9 L2159.6 125.9 L2161.1 121.0 L2162.6 116.5 L2164.1 112.2 L2165.6 108.4 L2167.1 105.0 L2168.6 102.1 L2170.1 99.6 L2171.6 97.1 L2173.1 94.7 L2174.6 92.6 L2176.1 90.9 L2177.6 89.8 L2179.1 89.4 L2180.6 89.4 L2182.1 89.6 L2183.6 89.7 L2185.1 90.0 L2186.6 90.3 L2188.1 90.7 L2189.6 91.1 L2191.1 91.5 L2192.6 92.0 L2194.1 92.4 L2195.6 92.9 L2197.1 93.5 L2198.6 94.0 L2200.1 94.5 L2201.6 95.0 L2203.1 95.5 L2204.6 95.9 L2206.1 96.4 L2207.6 96.8 L2209.1 97.1 L2210.6 97.4 L2212.1 97.7 L2213.6 97.9 L2215.1 98.0 L2216.6 98.0 L2218.1 98.0 L2219.6 97.9 L2221.1 97.8 L2222.6 97.7 L2224.1 97.5 L2225.6 97.3 L2227.1 97.1 L2228.6 96.8 L2230.1 96.6 L2231.6 96.3 L2233.1 96.0 L2234.6 95.7 L2236.1 95.4 L2237.6 95.1 L2239.1 94.9 L2240.6 94.6 L2242.1 94.3 L2243.6 94.0 L2245.1 93.8 L2246.6 93.6 L2248.1 93.4 L2249.6 93.2 L2251.1 93.1 L2252.6 93.0 L2254.1 92.9 L2255.6 92.9 L2257.1 92.9 L2258.6 92.9 L2260.1 92.9 L2261.6 92.9 L2263.1 92.9 L2264.6 93.0 L2266.1 93.0 L2267.6 93.0 L2269.1 93.1 L2270.6 93.1 L2272.1 93.2 L2273.6 93.2 L2275.1 93.3 L2276.6 93.3 L2278.1 93.4 L2279.6 93.5 L2281.1 93.6 L2282.6 93.7 L2284.1 93.8 L2285.6 93.9 L2287.1 94.0 L2288.6 94.1 L2290.1 94.2 L2291.6 94.4 L2293.1 94.5 L2294.6 94.9 L2296.1 95.9 L2297.6 97.7 L2299.1 100.0 L2300.6 102.8 L2302.1 105.7 L2303.6 108.8 L2305.1 111.9 L2306.6 115.3 L2308.1 119.1 L2309.6 123.4 L2311.1 128.1 L2312.6 133.1 L2314.1 138.4 L2315.6 144.0 L2317.1 150.2 L2318.6 156.9 L2320.1 164.2 L2321.6 172.0 L2323.1 180.2 L2324.6 188.9 L2326.1 198.3 L2327.6 209.7 L2329.1 221.8 L2330.6 233.0 L2332.1 241.9 L2333.6 249.4 L2335.1 256.1 L2336.6 262.3 L2338.1 268.6 L2339.6 275.2 L2341.1 282.5 L2342.6 290.2 L2344.1 298.2 L2345.6 306.4 L2347.1 314.7 L2348.6 323.2 L2350.1 331.8 L2351.6 340.5 L2353.1 349.3 L2354.6 358.0 L2356.1 366.7 L2357.6 375.6 L2359.1 384.6 L2360.6 393.7 L2362.1 402.8 L2363.6 411.8 L2365.1 421.1 L2366.6 432.2 L2368.1 442.8 L2369.6 450.0 L2371.1 451.8 L2372.6 452.1 L2374.1 452.5 L2375.6 452.8 L2377.1 453.0 L2378.6 453.2 L2380.1 453.4 L2381.6 453.5 L2383.1 453.6 L2384.6 453.7 L2386.1 453.8 L2387.6 453.9 L2389.1 454.0 L2390.6 454.0 L2392.1 454.1 L2393.6 454.2 L2395.1 454.2 L2396.6 454.3 L2398.1 454.4 L2399.6 454.5 L2401.1 454.7 L2402.6 454.9 L2404.1 455.1 L2405.6 455.3 L2407.1 455.6 L2408.6 456.0 L2410.1 456.5 L2411.6 457.3 L2413.1 458.1 L2414.6 459.2 L2416.1 460.3 L2417.6 461.6 L2419.1 463.0 L2420.6 464.5 L2422.1 466.0 L2423.6 467.7 L2425.1 469.8 L2426.6 472.3 L2428.1 475.2 L2429.6 478.5 L2431.1 482.5 L2432.6 487.6 L2434.1 493.5 L2435.6 500.0 L2437.1 506.9 L2438.6 513.7 L2440.1 520.3 L2441.6 526.8 L2443.1 533.4 L2444.6 540.1 L2446.1 546.9 L2447.6 553.8 L2449.1 561.0 L2450.6 568.2 L2452.1 575.3 L2453.6 582.4 L2455.1 589.2 L2456.6 595.7 L2458.1 601.9 L2459.6 608.2 L2461.1 614.4 L2462.6 620.4 L2464.1 626.2 L2465.6 631.6 L2467.1 636.5 L2468.6 640.9 L2470.1 644.6 L2471.6 648.1 L2473.1 651.2 L2474.6 653.8 L2476.1 655.7 L2477.6 657.4 L2479.1 659.0 L2480.6 660.3 L2482.1 661.4 L2483.6 662.1 L2485.1 662.5 L2486.6 662.8 L2488.1 663.1 L2489.6 663.4 L2491.1 663.7 L2492.6 664.0 L2494.1 664.2 L2495.6 664.5 L2497.1 664.7 L2498.6 664.9 L2500.1 665.1 L2501.6 665.3 L2503.1 665.4 L2504.6 665.6 L2506.1 665.7 L2507.6 665.8 L2509.1 666.0 L2510.6 666.1 L2512.1 666.1 L2513.6 666.2 L2515.1 666.3 L2516.6 666.3 L2518.1 666.4 L2519.6 666.4 L2521.1 666.4 L2522.6 666.4 L2524.1 666.4 L2525.6 666.3 L2527.1 666.2 L2528.6 666.1 L2530.1 666.0 L2531.6 665.8 L2533.1 665.6 L2534.6 665.4 L2536.1 665.2 L2537.6 665.0 L2539.1 664.7 L2540.6 664.5 L2542.1 664.2 L2543.6 663.9 L2545.1 663.6 L2546.6 663.3 L2548.1 663.0 L2549.6 662.7 L2551.1 662.4 L2552.6 662.1 L2554.1 661.7 L2555.6 661.4 L2557.1 661.1 L2558.6 660.8 L2560.1 660.5 L2561.6 660.2 L2563.1 660.0 L2564.6 659.7 L2566.1 659.5 L2567.6 659.2 L2569.1 658.9 L2570.6 658.7 L2572.1 658.4 L2573.6 658.2 L2575.1 657.9 L2576.6 657.6 L2578.1 657.3 L2579.6 657.0 L2581.1 656.6 L2582.6 656.2 L2584.1 655.8 L2585.6 655.4 L2587.1 655.0 L2588.6 654.5 L2590.1 653.9 L2591.6 653.4 L2593.1 652.8 L2594.6 652.1 L2596.1 651.4 L2597.6 650.7 L2599.1 649.7 L2600.6 648.0 L2602.1 645.6 L2603.6 642.6 L2605.1 639.2 L2606.6 635.5 L2608.1 631.7 L2609.6 627.7 L2611.1 623.8 L2612.6 620.1 L2614.1 616.6 L2615.6 613.2 L2617.1 609.7 L2618.6 606.2 L2620.1 602.6 L2621.6 598.9 L2623.1 595.1 L2624.6 591.1 L2626.1 586.8 L2627.6 582.4 L2629.1 577.5 L2630.6 572.4 L2632.1 566.9 L2633.6 561.2 L2635.1 555.3 L2636.6 549.2 L2638.1 542.8 L2639.6 535.9 L2641.1 528.7 L2642.6 521.4 L2644.1 514.0 L2645.6 506.6 L2647.1 499.4 L2648.6 492.4 L2650.1 485.8 L2651.6 479.5 L2653.1 473.0 L2654.6 466.3 L2656.1 459.8 L2657.6 453.6 L2659.1 448.0 L2660.6 443.3 L2662.1 439.8 L2663.6 437.3 L2665.1 435.1 L2666.6 433.0 L2668.1 431.1 L2669.6 429.6 L2671.1 428.4 L2672.6 427.7 L2674.1 427.5 L2675.6 427.6 L2677.1 427.8 L2678.6 428.0 L2680.1 428.4 L2681.6 428.8 L2683.1 429.3 L2684.6 429.8 L2686.1 430.3 L2687.6 430.8 L2689.1 431.4 L2690.6 431.9 L2692.1 432.4 L2693.6 432.9 L2695.1 433.4 L2696.6 433.9 L2698.1 434.5 L2699.6 435.1 L2701.1 435.7 L2702.6 436.3 L2704.1 437.0 L2705.6 437.7 L2707.1 438.3 L2707.9 438.7" stroke="#363a42" stroke-width="4.5"/>
<circle cx="1796.6" cy="439.6" r="11.8" fill="#3d4048"/><circle cx="1836.0" cy="433.5" r="11.8" fill="#3d4048"/><circle cx="1874.0" cy="438.5" r="11.8" fill="#3d4048"/><circle cx="1912.0" cy="442.0" r="11.8" fill="#3d4048"/><circle cx="1950.5" cy="439.2" r="11.8" fill="#3d4048"/><circle cx="1988.0" cy="438.5" r="11.8" fill="#3d4048"/><circle cx="2025.6" cy="435.6" r="11.8" fill="#3d4048"/><circle cx="2063.6" cy="439.7" r="11.8" fill="#3d4048"/><circle cx="2102.7" cy="432.2" r="11.8" fill="#3d4048"/><circle cx="2140.4" cy="229.5" r="11.8" fill="#3d4048"/><circle cx="2179.1" cy="89.4" r="11.8" fill="#3d4048"/><circle cx="2216.5" cy="98.0" r="11.8" fill="#3d4048"/><circle cx="2255.6" cy="92.9" r="11.8" fill="#3d4048"/><circle cx="2293.7" cy="94.6" r="11.8" fill="#3d4048"/><circle cx="2331.4" cy="238.0" r="11.8" fill="#3d4048"/><circle cx="2370.5" cy="451.6" r="11.8" fill="#3d4048"/><circle cx="2407.5" cy="455.7" r="11.8" fill="#3d4048"/><circle cx="2445.6" cy="544.6" r="11.8" fill="#3d4048"/><circle cx="2484.3" cy="662.3" r="11.8" fill="#3d4048"/><circle cx="2522.0" cy="666.4" r="11.8" fill="#3d4048"/><circle cx="2559.7" cy="660.6" r="11.8" fill="#3d4048"/><circle cx="2598.1" cy="650.4" r="11.8" fill="#3d4048"/><circle cx="2636.0" cy="551.7" r="11.8" fill="#3d4048"/><circle cx="2673.9" cy="427.5" r="11.8" fill="#3d4048"/><circle cx="2707.9" cy="438.7" r="11.8" fill="#3d4048"/>
<path d="M1901.0 439.6 L1902.5 439.2 L1904.0 438.8 L1905.5 438.4 L1907.0 438.0 L1908.5 437.7 L1910.0 437.4 L1911.5 437.0 L1913.0 436.7 L1914.5 436.4 L1916.0 436.2 L1917.5 435.9 L1919.0 435.6 L1920.5 435.4 L1922.0 435.2 L1923.5 435.0 L1925.0 434.8 L1926.5 434.6 L1928.0 434.5 L1929.5 434.4 L1931.0 434.2 L1932.5 434.1 L1934.0 434.1 L1935.5 434.0 L1937.0 433.9 L1938.5 433.9 L1940.0 433.9 L1941.5 433.9 L1943.0 433.9 L1944.5 434.0 L1946.0 434.1 L1947.5 434.2 L1949.0 434.3 L1950.5 434.5 L1952.0 434.6 L1953.5 434.8 L1955.0 435.0 L1956.5 435.2 L1958.0 435.4 L1959.5 435.6 L1961.0 435.8 L1962.5 436.1 L1964.0 436.3 L1965.5 436.5 L1967.0 436.8 L1968.5 437.0 L1970.0 437.2 L1971.5 437.4 L1973.0 437.6 L1974.5 437.8 L1976.0 438.0 L1977.5 438.2 L1979.0 438.4 L1980.5 438.5 L1982.0 438.7 L1983.5 438.9 L1985.0 439.1 L1986.5 439.3 L1988.0 439.5 L1989.5 439.7 L1991.0 439.9 L1992.5 440.1 L1994.0 440.3 L1995.5 440.5 L1997.0 440.7 L1998.5 440.8 L2000.0 441.0 L2001.5 441.2 L2003.0 441.3 L2004.5 441.5 L2006.0 441.6 L2007.5 441.7 L2009.0 441.8 L2010.5 441.9 L2012.0 442.0 L2013.5 442.1 L2015.0 442.1 L2016.5 442.1 L2018.0 442.1 L2019.5 442.1 L2021.0 442.0 L2022.5 442.0 L2024.0 441.9 L2025.5 441.9 L2027.0 441.8 L2028.5 441.7 L2030.0 441.6 L2031.5 441.4 L2033.0 441.3 L2034.5 441.2 L2036.0 441.0 L2037.5 440.9 L2039.0 440.7 L2040.5 440.6 L2042.0 440.4 L2043.5 440.2 L2045.0 440.0 L2046.5 439.8 L2048.0 439.6 L2049.5 439.4 L2051.0 439.2 L2052.5 439.0 L2054.0 438.8 L2055.5 438.6 L2057.0 438.3 L2058.5 438.0 L2060.0 437.6 L2061.5 437.1 L2063.0 436.6 L2064.5 436.0 L2066.0 435.4 L2067.5 434.8 L2069.0 434.2 L2070.5 433.5 L2072.0 432.9 L2073.5 432.2 L2075.0 431.6 L2076.5 430.9 L2078.0 430.3 L2079.5 429.7 L2081.0 429.1 L2082.5 428.6 L2084.0 428.2 L2085.5 427.8 L2087.0 427.4 L2088.5 427.1 L2090.0 426.9 L2091.5 426.8 L2093.0 426.8 L2094.5 427.3 L2096.0 428.1 L2097.5 429.1 L2099.0 430.2 L2100.5 431.0 L2102.0 431.5 L2103.5 431.5 L2105.0 431.5 L2106.5 431.4 L2108.0 431.4 L2109.5 431.3 L2111.0 430.9 L2112.5 428.9 L2114.0 425.4 L2115.5 421.0 L2117.0 415.7 L2118.5 407.1 L2120.0 395.6 L2121.5 382.0 L2123.0 367.2 L2124.5 351.8 L2126.0 332.7 L2127.5 311.2 L2129.0 289.9 L2130.5 271.3 L2132.0 255.5 L2133.5 240.4 L2135.0 226.1 L2136.5 212.6 L2138.0 200.1 L2139.5 188.6 L2141.0 178.2 L2142.5 168.8 L2144.0 160.3 L2145.5 152.5 L2147.0 145.0 L2148.5 137.6 L2150.0 129.6 L2151.5 121.6 L2153.0 113.9 L2154.5 107.2 L2156.0 101.9 L2157.5 98.4 L2159.0 96.6 L2160.5 94.9 L2162.0 93.5 L2163.5 92.3 L2165.0 91.3 L2166.5 90.6 L2168.0 90.2 L2169.5 90.1 L2171.0 90.1 L2172.5 90.1 L2174.0 90.1 L2175.5 90.1 L2177.0 90.1 L2178.5 90.1 L2180.0 90.1 L2181.5 90.1 L2183.0 90.1 L2184.5 90.1 L2186.0 90.1 L2187.5 90.1 L2189.0 90.1 L2190.5 90.1 L2192.0 90.1 L2193.5 90.1 L2195.0 90.1 L2196.5 90.1 L2198.0 90.1 L2199.5 90.1 L2201.0 90.1 L2202.5 90.1 L2204.0 90.1 L2205.5 90.1 L2207.0 90.1 L2208.5 90.1 L2210.0 90.0 L2211.5 90.0 L2213.0 89.9 L2214.5 89.8 L2216.0 89.6 L2217.5 89.5 L2219.0 89.3 L2220.5 89.1 L2222.0 88.9 L2223.5 88.6 L2225.0 88.3 L2226.5 88.1 L2228.0 87.8 L2229.5 87.4 L2231.0 87.1 L2232.5 86.7 L2234.0 86.4 L2235.5 86.0 L2237.0 85.6 L2238.5 85.2 L2240.0 84.7 L2241.5 84.3 L2243.0 83.9 L2244.5 83.4 L2246.0 82.8 L2247.5 81.9 L2249.0 80.7 L2250.5 79.3 L2252.0 77.9 L2253.5 76.4 L2255.0 75.2 L2256.5 74.1 L2258.0 73.4 L2259.5 73.0 L2261.0 73.3 L2262.5 74.1 L2264.0 75.1 L2265.5 76.0 L2267.0 76.8 L2268.5 77.6 L2270.0 78.5 L2271.5 79.4 L2273.0 80.2 L2274.5 81.0 L2276.0 81.8 L2277.5 82.4 L2279.0 83.0 L2280.5 83.4 L2282.0 83.7 L2283.5 83.8 L2285.0 83.8 L2286.5 83.7 L2288.0 83.6 L2289.5 83.4 L2291.0 83.2 L2292.5 82.9 L2294.0 82.6 L2295.5 82.3 L2297.0 82.0 L2298.5 81.6 L2300.0 81.2 L2301.5 80.9 L2303.0 80.5 L2304.5 80.1 L2306.0 79.8 L2307.5 79.4 L2309.0 79.1 L2310.5 78.8 L2312.0 78.5 L2313.5 78.2 L2315.0 78.0 L2316.5 77.8 L2318.0 77.7 L2319.5 77.6 L2321.0 77.6 L2322.5 77.7 L2324.0 78.0 L2325.5 78.5 L2327.0 79.1 L2328.5 79.8 L2330.0 80.6 L2331.5 81.6 L2333.0 82.6 L2334.5 83.6 L2336.0 84.7 L2337.5 85.7 L2339.0 86.8 L2340.5 88.0 L2342.0 89.3 L2343.5 90.7 L2345.0 92.3 L2346.5 93.9 L2348.0 95.7 L2349.5 97.7 L2351.0 99.8 L2352.5 102.0 L2354.0 104.3 L2355.5 106.8 L2357.0 109.5 L2358.5 112.3 L2360.0 115.4 L2361.5 119.4 L2363.0 124.2 L2364.5 129.6 L2366.0 135.4 L2367.5 141.9 L2369.0 149.2 L2370.5 157.4 L2372.0 166.5 L2373.5 177.4 L2375.0 190.3 L2376.5 204.7 L2378.0 220.1 L2379.5 236.0 L2381.0 251.9 L2382.5 267.3 L2384.0 281.9 L2385.5 296.3 L2387.0 311.0 L2388.5 325.3 L2390.0 338.8 L2391.5 350.7 L2393.0 361.7 L2394.5 372.0 L2396.0 381.1 L2397.5 388.5 L2399.0 395.0 L2400.5 401.0 L2402.0 406.4 L2403.5 411.0 L2405.0 414.4 L2406.5 416.7 L2408.0 418.6 L2409.5 420.4 L2411.0 421.9 L2412.5 423.1 L2414.0 423.9 L2415.5 424.4 L2417.0 424.4 L2418.5 424.2 L2420.0 424.0 L2421.5 423.6 L2423.0 423.2 L2424.5 422.7 L2426.0 422.3 L2427.5 421.8 L2429.0 421.4 L2430.5 421.0 L2432.0 420.6 L2433.5 420.4 L2435.0 420.3 L2436.5 420.3 L2438.0 420.4 L2439.5 420.6 L2441.0 420.8 L2442.5 421.1 L2444.0 421.5 L2445.5 421.9 L2447.0 422.3 L2448.5 422.8 L2450.0 423.3 L2451.5 423.8 L2453.0 424.4 L2454.5 424.9 L2456.0 425.4 L2457.5 426.0 L2459.0 426.5 L2460.5 427.0 L2462.0 427.5 L2463.5 427.9 L2465.0 428.3 L2466.5 428.7 L2468.0 429.0 L2469.5 429.3 L2471.0 429.4 L2472.5 429.6 L2474.0 429.6 L2475.5 429.5 L2477.0 429.4 L2478.5 429.2 L2480.0 428.8 L2481.5 428.4 L2483.0 428.0 L2484.5 427.4 L2486.0 426.8 L2487.5 426.1 L2489.0 425.3 L2490.5 424.5 L2492.0 423.7 L2493.5 422.7 L2495.0 421.8 L2496.5 420.8 L2498.0 419.7 L2499.5 418.6 L2501.0 417.5 L2502.5 416.4 L2504.0 415.2 L2505.5 414.0 L2507.0 412.8 L2508.5 411.6 L2510.0 410.4 L2511.5 409.1 L2513.0 407.7 L2514.5 405.7 L2516.0 403.3 L2517.5 400.7 L2519.0 398.0 L2520.5 395.4 L2522.0 393.1 L2523.5 391.2 L2525.0 390.0 L2526.5 389.5 L2528.0 389.9 L2529.5 390.7 L2531.0 391.7 L2532.5 392.7 L2534.0 393.8 L2535.5 395.0 L2537.0 396.3 L2538.5 397.6 L2540.0 399.0 L2541.5 400.5 L2543.0 402.0 L2544.5 403.6 L2546.0 405.1 L2547.5 406.7 L2549.0 408.2 L2550.5 409.7 L2552.0 411.3 L2553.5 413.0 L2555.0 414.8 L2556.5 416.6 L2558.0 418.4 L2559.5 420.2 L2561.0 421.9 L2562.5 423.6 L2564.0 425.1 L2565.5 426.5 L2567.0 427.7 L2568.5 428.8 L2570.0 429.7 L2571.5 430.7 L2573.0 431.6 L2574.5 432.5 L2576.0 433.3 L2577.5 434.1 L2579.0 434.9 L2580.5 435.6 L2582.0 436.2 L2583.5 436.9 L2585.0 437.4 L2586.5 438.0 L2588.0 438.5 L2589.5 438.9 L2591.0 439.3 L2592.5 439.7 L2594.0 440.0 L2595.5 440.3 L2597.0 440.6 L2598.5 440.9 L2600.0 441.1 L2601.5 441.3 L2603.0 441.5 L2604.5 441.7 L2606.0 441.9 L2607.5 442.1 L2609.0 442.3 L2610.5 442.5 L2612.0 442.7 L2613.5 443.0 L2615.0 443.2 L2616.5 443.5 L2618.0 443.9 L2619.5 444.2 L2621.0 444.6 L2622.5 445.1 L2624.0 445.6 L2625.5 446.1 L2627.0 446.8 L2628.5 447.8 L2630.0 449.1 L2631.5 450.8 L2633.0 452.9 L2634.5 455.3 L2636.0 458.0 L2637.5 461.0 L2639.0 464.3 L2640.5 468.1 L2642.0 473.6 L2643.5 480.8 L2645.0 489.2 L2646.5 498.4 L2648.0 508.0 L2649.5 517.7 L2651.0 527.8 L2652.5 539.2 L2654.0 551.5 L2655.5 564.6 L2657.0 578.3 L2658.5 592.5 L2660.0 607.0 L2661.5 623.3 L2663.0 640.0 L2664.5 652.0 L2666.0 660.7 L2667.5 668.0 L2669.0 674.4 L2670.5 680.3 L2672.0 686.0 L2673.5 692.1 L2675.0 698.6 L2676.5 705.4 L2678.0 712.2 L2679.5 718.7 L2681.0 724.7 L2682.5 729.9 L2684.0 733.9 L2685.5 737.4 L2687.0 740.6 L2688.5 743.1 L2690.0 744.8 L2691.5 745.5 L2693.0 746.1 L2694.5 746.5 L2696.0 746.8 L2697.5 747.1 L2699.0 747.4 L2700.5 747.8 L2702.0 748.1 L2703.5 748.6 L2705.0 749.2 L2706.5 749.8 L2708.0 750.4 L2709.5 751.1 L2711.0 751.8 L2712.5 752.5 L2714.0 753.2 L2715.5 754.0 L2717.0 754.8 L2718.5 755.6 L2720.0 756.4 L2721.5 757.1 L2723.0 757.9 L2724.5 758.7 L2726.0 759.4 L2727.5 760.1 L2729.0 760.8 L2730.5 761.4 L2732.0 762.0 L2733.5 762.5 L2735.0 763.0 L2736.5 763.4 L2738.0 763.8 L2739.5 764.1 L2741.0 764.3 L2742.5 764.5 L2744.0 764.7 L2745.5 764.8 L2747.0 765.0 L2748.5 765.2 L2750.0 765.3 L2751.5 765.5 L2753.0 765.6 L2754.5 765.8 L2756.0 765.9 L2757.5 766.0 L2759.0 766.2 L2760.5 766.3 L2762.0 766.4 L2763.5 766.5 L2765.0 766.6 L2766.5 766.7 L2768.0 766.7 L2769.5 766.8 L2771.0 766.9 L2772.5 766.9 L2774.0 766.9 L2775.5 767.0 L2777.0 767.0 L2778.5 767.0 L2780.0 767.0 L2781.5 766.8 L2783.0 766.5 L2784.5 766.0 L2786.0 765.5 L2787.5 764.9 L2789.0 764.2 L2790.5 763.4 L2792.0 762.2 L2793.5 760.3 L2795.0 758.1 L2796.5 755.8 L2798.0 753.8 L2799.5 752.4 L2801.0 751.8 L2802.5 751.5 L2804.0 751.1 L2805.5 750.8 L2807.0 750.5 L2808.5 750.3 L2810.0 750.1 L2811.5 749.9 L2813.0 749.8 L2814.5 749.7 L2816.0 749.6 L2817.5 749.6 L2819.0 749.6 L2820.5 749.6 L2822.0 749.6 L2823.5 749.6 L2825.0 749.6 L2826.5 749.6 L2828.0 749.6 L2829.5 749.6 L2831.0 749.6 L2832.5 749.6 L2834.0 749.6 L2835.5 749.6 L2837.0 749.6 L2838.5 749.6 L2840.0 749.6 L2841.5 749.6 L2843.0 749.6 L2844.5 749.6 L2846.0 749.6 L2847.5 749.6 L2849.0 749.6 L2850.5 749.6 L2852.0 749.6 L2853.5 749.6 L2855.0 749.6 L2856.5 749.4 L2858.0 748.8 L2859.5 747.6 L2861.0 746.1 L2862.5 744.2 L2864.0 742.0 L2865.5 739.5 L2867.0 736.9 L2868.5 734.3 L2870.0 731.6 L2871.5 728.8 L2873.0 725.3 L2874.5 721.3 L2876.0 716.8 L2877.5 711.9 L2879.0 706.9 L2880.5 701.8 L2882.0 696.8 L2883.5 691.9 L2885.0 687.5 L2886.5 683.5 L2888.0 679.6 L2889.5 675.7 L2891.0 671.4 L2892.5 666.4 L2894.0 660.4 L2895.5 652.2 L2897.0 641.9 L2898.5 630.2 L2900.0 618.1 L2901.5 606.5 L2903.0 594.5 L2904.5 581.9 L2906.0 569.2 L2907.5 556.9 L2909.0 545.5 L2910.5 535.4 L2912.0 525.8 L2913.5 516.6 L2915.0 507.7 L2916.5 499.1 L2918.0 491.0 L2919.5 483.4 L2921.0 476.2 L2922.5 469.6 L2924.0 463.5 L2925.5 457.5 L2927.0 451.9 L2928.5 446.7 L2930.0 442.3 L2931.5 438.8 L2933.0 436.3 L2934.5 434.1 L2936.0 432.1 L2937.5 430.3 L2939.0 428.7 L2940.5 427.2 L2942.0 425.9 L2943.5 424.6 L2945.0 423.3 L2946.5 422.0 L2948.0 420.7 L2949.5 419.3 L2951.0 417.8 L2952.5 416.1 L2954.0 414.2 L2955.5 412.2 L2957.0 410.2 L2958.5 408.1 L2960.0 406.2 L2961.5 404.3 L2963.0 402.6 L2964.5 401.1 L2966.0 400.0 L2967.5 399.2 L2969.0 398.7 L2970.5 398.7 L2972.0 398.7 L2973.5 398.7 L2975.0 398.7 L2976.5 398.7 L2978.0 398.8 L2979.5 398.8 L2981.0 398.8 L2982.5 398.8 L2984.0 398.9 L2985.5 398.9 L2987.0 399.0 L2988.5 399.0 L2990.0 399.1 L2991.5 399.2 L2993.0 399.2 L2994.5 399.3 L2996.0 399.4 L2997.5 399.5 L2999.0 400.2 L3000.5 401.8 L3002.0 404.1 L3003.5 406.8 L3005.0 409.7 L3006.5 412.5 L3008.0 415.1 L3009.5 418.1 L3011.0 421.6 L3012.5 425.2 L3014.0 428.6 L3015.5 431.4 L3017.0 433.4 L3018.5 434.0 L3020.0 433.7 L3021.5 433.2 L3023.0 432.7 L3024.5 432.5 L3026.0 432.9 L3027.5 433.9 L3029.0 435.2 L3030.5 436.4 L3032.0 437.3 L3033.5 438.1 L3035.0 438.9 L3036.5 439.6 L3038.0 440.2 L3039.5 440.8 L3039.9 441.0" stroke="#4c7cb8" stroke-width="4.5"/>
<circle cx="1901.0" cy="439.6" r="11.7" fill="#3b79c4"/><circle cx="1940.4" cy="433.9" r="11.7" fill="#3b79c4"/><circle cx="1978.4" cy="438.3" r="11.7" fill="#3b79c4"/><circle cx="2016.5" cy="442.1" r="11.7" fill="#3b79c4"/><circle cx="2054.9" cy="438.7" r="11.7" fill="#3b79c4"/><circle cx="2092.6" cy="426.8" r="11.7" fill="#3b79c4"/><circle cx="2130.6" cy="270.2" r="11.7" fill="#3b79c4"/><circle cx="2169.0" cy="90.1" r="11.7" fill="#3b79c4"/><circle cx="2207.1" cy="90.1" r="11.7" fill="#3b79c4"/><circle cx="2244.8" cy="83.3" r="11.7" fill="#3b79c4"/><circle cx="2283.5" cy="83.8" r="11.7" fill="#3b79c4"/><circle cx="2320.9" cy="77.6" r="11.7" fill="#3b79c4"/><circle cx="2359.3" cy="113.9" r="11.7" fill="#3b79c4"/><circle cx="2397.4" cy="388.1" r="11.7" fill="#3b79c4"/><circle cx="2435.4" cy="420.3" r="11.7" fill="#3b79c4"/><circle cx="2473.9" cy="429.6" r="11.7" fill="#3b79c4"/><circle cx="2511.9" cy="408.8" r="11.7" fill="#3b79c4"/><circle cx="2550.0" cy="409.2" r="11.7" fill="#3b79c4"/><circle cx="2588.7" cy="438.7" r="11.7" fill="#3b79c4"/><circle cx="2626.4" cy="446.5" r="11.7" fill="#3b79c4"/><circle cx="2664.1" cy="649.4" r="11.7" fill="#3b79c4"/><circle cx="2702.5" cy="748.3" r="11.7" fill="#3b79c4"/><circle cx="2740.9" cy="764.3" r="11.7" fill="#3b79c4"/><circle cx="2779.0" cy="767.0" r="11.7" fill="#3b79c4"/><circle cx="2817.4" cy="749.6" r="11.7" fill="#3b79c4"/><circle cx="2855.4" cy="749.6" r="11.7" fill="#3b79c4"/><circle cx="2893.8" cy="661.3" r="11.7" fill="#3b79c4"/><circle cx="2931.9" cy="438.1" r="11.7" fill="#3b79c4"/><circle cx="2969.6" cy="398.7" r="11.7" fill="#3b79c4"/><circle cx="3007.6" cy="414.4" r="11.7" fill="#3b79c4"/><circle cx="3039.9" cy="441.0" r="11.7" fill="#3b79c4"/>
<path d="M2931.5 426L2937 411.5H2950V447H2937Z" fill="#4c7cb8" stroke="none"/>
</g>
</g>
<rect x="1796.7" y="1.4" width="1141.8" height="827.0" fill="none" stroke="#231f20" stroke-width="2.9"/>
<path d="M1796.7 48.2h14.3M1796.7 145.7h14.3M1796.7 243.3h14.3M1796.7 340.8h14.3M1796.7 438.3h14.3M1796.7 535.9h14.3M1796.7 633.4h14.3M1796.7 730.9h14.3M1986.4 828.4v-13.6M2177.2 828.4v-13.6M2368.0 828.4v-13.6M2558.8 828.4v-13.6M2749.6 828.4v-13.6" stroke="#231f20" stroke-width="2.9" fill="none"/>
<text transform="translate(1776.8 66.2) scale(1.016 1)" text-anchor="end" font-size="54.8">40</text>
<text transform="translate(1776.8 163.7) scale(1.016 1)" text-anchor="end" font-size="54.8">30</text>
<text transform="translate(1776.8 261.3) scale(1.016 1)" text-anchor="end" font-size="54.8">20</text>
<text transform="translate(1776.8 358.8) scale(1.016 1)" text-anchor="end" font-size="54.8">10</text>
<text transform="translate(1776.8 456.3) scale(1.016 1)" text-anchor="end" font-size="54.8">0</text>
<text transform="translate(1776.8 553.9) scale(1.016 1)" text-anchor="end" font-size="54.8">−10</text>
<text transform="translate(1776.8 651.4) scale(1.016 1)" text-anchor="end" font-size="54.8">−20</text>
<text transform="translate(1776.8 748.9) scale(1.016 1)" text-anchor="end" font-size="54.8">−30</text>
<text transform="translate(1776.8 846.4) scale(1.016 1)" text-anchor="end" font-size="54.8">−40</text>
<text transform="translate(1797.0 886.8) scale(1.016 1)" text-anchor="middle" font-size="54.8">0</text>
<text transform="translate(1986.4 886.8) scale(1.016 1)" text-anchor="middle" font-size="54.8">500</text>
<text transform="translate(2177.2 886.8) scale(1.016 1)" text-anchor="middle" font-size="54.8">1 000</text>
<text transform="translate(2368.0 886.8) scale(1.016 1)" text-anchor="middle" font-size="54.8">1 500</text>
<text transform="translate(2558.8 886.8) scale(1.016 1)" text-anchor="middle" font-size="54.8">2 000</text>
<text transform="translate(2749.6 886.8) scale(1.016 1)" text-anchor="middle" font-size="54.8">2 500</text>
<text transform="translate(2941.0 886.8) scale(1.016 1)" text-anchor="middle" font-size="54.8">3 000</text>
<text transform="translate(2367.6 966.0) scale(1.016 1)" text-anchor="middle" font-size="54.8">Time/μs</text>
<text transform="translate(1645.9 413.8) rotate(-90) scale(1.016 1)" text-anchor="middle" font-size="54.8">True stress/MPa</text>
<text transform="translate(1859.6 748.8) scale(1.016 1)" text-anchor="start" font-size="54.8">Δ</text>
<text transform="translate(1896.4 748.8) scale(1.016 1)" text-anchor="start" font-size="54.8" font-style="italic">t</text>
<text transform="translate(1909.0 746.4) scale(1.13 0.8)" text-anchor="start" font-size="54.8">=</text>
<text transform="translate(1941.2 748.8) scale(1.021 1)" text-anchor="start" font-size="54.8">230 μs</text>
<!-- captions -->
<text transform="translate(517.4 1062.2) scale(1.016 1)" text-anchor="start" font-size="54.8">(a) Original stress waveforms</text>
<text transform="translate(1663.6 1062.2) scale(1.0148 1)" text-anchor="start" font-size="54.8">(b) Pulse waveforms with tension wave shifted by 230 μs</text>
</svg>
</body>
</html>
